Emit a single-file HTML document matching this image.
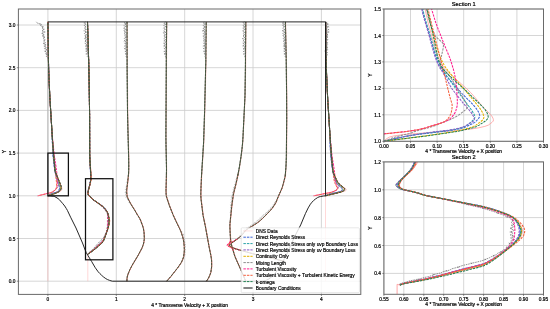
<!DOCTYPE html>
<html><head><meta charset="utf-8"><style>html,body{margin:0;padding:0;background:#fff;width:550px;height:309px;overflow:hidden}</style></head>
<body>
<svg width="550" height="309" viewBox="0 0 550 309" style="display:block;will-change:transform">
<rect width="550" height="309" fill="#fff"/>
<defs>
<clipPath id="cm"><rect x="18.4" y="9.0" width="342.40000000000003" height="285.4"/></clipPath>
<clipPath id="c1"><rect x="383.9" y="9.0" width="159.60000000000002" height="132.3"/></clipPath>
<clipPath id="c2"><rect x="383.9" y="161.9" width="159.60000000000002" height="132.4"/></clipPath>
</defs>
<line x1="47.9" y1="9.0" x2="47.9" y2="294.4" stroke="#cbcbcb" stroke-width="0.8"/>
<line x1="116.3" y1="9.0" x2="116.3" y2="294.4" stroke="#cbcbcb" stroke-width="0.8"/>
<line x1="184.7" y1="9.0" x2="184.7" y2="294.4" stroke="#cbcbcb" stroke-width="0.8"/>
<line x1="253" y1="9.0" x2="253" y2="294.4" stroke="#cbcbcb" stroke-width="0.8"/>
<line x1="321.4" y1="9.0" x2="321.4" y2="294.4" stroke="#cbcbcb" stroke-width="0.8"/>
<line x1="18.4" y1="281.2" x2="360.8" y2="281.2" stroke="#cbcbcb" stroke-width="0.8"/>
<line x1="18.4" y1="238.5" x2="360.8" y2="238.5" stroke="#cbcbcb" stroke-width="0.8"/>
<line x1="18.4" y1="195.8" x2="360.8" y2="195.8" stroke="#cbcbcb" stroke-width="0.8"/>
<line x1="18.4" y1="153.1" x2="360.8" y2="153.1" stroke="#cbcbcb" stroke-width="0.8"/>
<line x1="18.4" y1="110.4" x2="360.8" y2="110.4" stroke="#cbcbcb" stroke-width="0.8"/>
<line x1="18.4" y1="67.7" x2="360.8" y2="67.7" stroke="#cbcbcb" stroke-width="0.8"/>
<line x1="18.4" y1="25" x2="360.8" y2="25" stroke="#cbcbcb" stroke-width="0.8"/>
<g clip-path="url(#cm)">
<path d="M47.9,195.8 L47.9,281.2" fill="none" stroke="#ff9c9c" stroke-width="0.7" stroke-linejoin="round" stroke-opacity="0.55"/>
<path d="M87.8,253.4 L87.8,281.2" fill="none" stroke="#ff9c9c" stroke-width="0.7" stroke-linejoin="round" stroke-opacity="0.55"/>
<path d="M325.5,195.8 L325.5,281.2" fill="none" stroke="#ff9c9c" stroke-width="0.7" stroke-linejoin="round" stroke-opacity="0.55"/>
<path d="M47.9,195.8 L47.9,21.9" fill="none" stroke="#b4b4b4" stroke-width="0.9" stroke-linejoin="round"/>
<path d="M47.9,195.8 L48.6,194.5 L49.2,194.1 L50.5,193.6 L59,191.9 L60.1,191.4 L60.9,191 L61.3,190.6 L61.8,189.7 L62,188.8 L61.6,187.1 L60.5,184.5 L59.1,180.1 L56.2,173.6 L55.3,171 L54.5,166.2 L53.3,154.4 L50,99.9 L48.9,75.5 L48.3,55.5 L47.9,21.9" fill="none" stroke="#ff9c9c" stroke-width="0.7" stroke-linejoin="round" stroke-opacity="0.8"/>
<path d="M47.9,195.8 L51,194.1 L56.4,192.3 L57.5,191.9 L58.6,191 L59.6,189.7 L60.1,188.4 L60.2,187.5 L60,186.2 L59.7,184.9 L56.4,176.2 L55,171.4 L54.4,167.5 L52.9,153.5 L51.9,130.9 L49.9,97.8 L48.8,72.9 L48.3,54.2 L47.9,21.9" fill="none" stroke="#3b63d6" stroke-width="0.95" stroke-linejoin="round" stroke-dasharray="2.4 1.0" stroke-dashoffset="0.3"/>
<path d="M47.9,195.8 L51,194.1 L57.3,191.9 L57.9,191.4 L58.6,190.6 L59.4,188.8 L59.6,188 L59.2,185.8 L56,174.9 L55.1,171 L54.4,166.2 L52.9,153.5 L51.9,130 L49.7,94.7 L48.8,73.3 L48.3,54.6 L47.9,21.9" fill="none" stroke="#29a3a8" stroke-width="0.95" stroke-linejoin="round" stroke-dasharray="2.4 1.0" stroke-dashoffset="0.9"/>
<path d="M47.9,195.8 L50.1,194.5 L52,193.6 L57.1,191.9 L58.2,191 L59.2,189.7 L59.5,188.8 L59.1,186.6 L56.6,178.8 L54.8,171 L54.3,167 L52.8,153.5 L51.9,130.4 L49.9,97.8 L48.8,72.9 L48.3,54.2 L47.9,21.9" fill="none" stroke="#8b5bc6" stroke-width="0.95" stroke-linejoin="round" stroke-dasharray="2.4 1.0" stroke-dashoffset="1.5"/>
<path d="M47.9,195.8 L55.6,193.2 L56.7,192.7 L58.3,191.9 L59.4,191 L59.7,190.6 L60.6,188.8 L60.8,188 L60.5,186.2 L60,184.5 L56.5,174 L55.5,170.5 L54.6,164.9 L53.4,153.1 L52.3,136.5 L50.1,101.2 L49.1,81.2 L48.6,69.9 L48.4,59 L47.9,21.9" fill="none" stroke="#e2b100" stroke-width="0.95" stroke-linejoin="round" stroke-dasharray="2.4 1.0" stroke-dashoffset="2.1"/>
<path d="M47.9,195.8 L49.3,194.5 L51.3,193.2 L52.3,192.3 L54.2,191 L56.4,188.8 L57.7,187.1 L58.6,184.9 L58.4,183.2 L56.6,175.8 L56.1,174 L55.3,172.3 L55.1,171.4 L55.5,164.4 L54.5,161.8 L53.9,157.9 L53.4,153.5 L52.8,144.4 L50,99.9 L48.8,74.7 L48.3,55 L47.9,21.9" fill="none" stroke="#8f8f8f" stroke-width="0.95" stroke-linejoin="round" stroke-dasharray="2.4 1.0" stroke-dashoffset="2.7"/>
<path d="M37.6,195.8 L50.5,192.7 L52.6,191.9 L55.5,189.7 L56.2,188.8 L56.6,188 L57,186.6 L57.3,184.5 L57.3,178.4 L56.8,172.7 L56.4,168.8 L54.3,155.3 L52.3,136.1 L51.7,127.8 L50,100.4 L49.2,84.7 L48.6,68.1 L48.3,52 L47.9,21.9" fill="none" stroke="#ff1f8f" stroke-width="0.95" stroke-linejoin="round" stroke-dasharray="2.4 1.0" stroke-dashoffset="1.7"/>
<path d="M38.3,195.8 L50.5,192.7 L52.6,191.9 L55,190.1 L55.8,189.3 L56.4,187.5 L56.6,185.3 L56.6,183.6 L53.8,155.7 L52.9,144.8 L51.8,129.1 L49.8,96.4 L48.6,67.7 L48.3,52 L47.9,21.9" fill="none" stroke="#f4603e" stroke-width="0.95" stroke-linejoin="round" stroke-dasharray="2.4 1.0" stroke-dashoffset="1.2"/>
<path d="M47.9,195.8 L53.4,194.1 L57,192.7 L57.9,192.3 L59.8,191 L60.9,189.3 L61.3,188 L61.2,186.6 L60.7,184.9 L56.3,174.4 L55.2,171.4 L54.7,167.9 L53.5,153.1 L52.3,137.4 L50.1,101.2 L49.1,81.6 L48.7,70.3 L48.4,59.4 L47.9,21.9" fill="none" stroke="#1f7f50" stroke-width="0.95" stroke-linejoin="round" stroke-dasharray="2.4 1.0" stroke-dashoffset="0.0"/>
<path d="M47.9,195.8 L53.4,194.1 L57,192.7 L57.9,192.3 L59.8,191 L61.1,188.8 L61.3,188.4 L61.3,187.5 L60.8,185.3 L55.8,173.1" fill="none" stroke="#a8584c" stroke-width="0.9" stroke-linejoin="round"/>
<path d="M56.8,175.8 L55.9,173.6 L55.2,171.4 L54.7,167.5 L52.8,144.4 L50,100.4 L49.2,84.7 L48.6,68.1 L48.3,52 L47.9,21.9" fill="none" stroke="#5e5a4c" stroke-width="0.9" stroke-linejoin="round"/>
<path d="M47.9,195.8 L53.4,194.1 L57,192.7 L57.9,192.3 L59.8,191 L60.9,189.3 L61.3,188 L61.2,186.6 L60.7,184.9 L56.3,174.4 L55.2,171.4 L54.7,167.9 L53.5,153.1 L52.3,137.4 L50.1,101.2 L49.1,81.6 L48.7,70.3 L48.4,59.4 L47.9,21.9" fill="none" stroke="#3a5238" stroke-width="0.9" stroke-linejoin="round" stroke-dasharray="2.4 1.0" stroke-dashoffset="0"/>
<path d="M46.9,57.1 L46.6,56.8 L46.4,56.1 L46.9,55.4 L46.7,55 L46.7,54.7 L46,54.3 L46.6,54 L45.6,53.6 L45.9,53.3 L46.7,52.9 L46.9,52.6 L44.9,51.2 L45.7,50.8 L47.1,49.8 L44.9,49.1 L44.6,48.8 L45,48.4 L46.1,48.1 L46,47.7 L46.2,47.4 L46.2,47 L44.7,46.7 L44.2,46.3 L45,45.6 L46.1,44.9 L44.7,44.6 L45.2,44.2 L43.8,43.9 L43.2,43.5 L45.1,42.8 L45.3,42.5 L44.8,41.8 L43.9,41.4 L43.8,40.7 L44.3,40.4 L45.3,40 L45,39.7 L44.4,39.3 L44,39 L43.4,38.7 L43,38.3 L43.3,38 L44.4,37.6 L43.9,37.3 L44.7,36.9 L43.9,36.6 L42.4,36.2 L42.6,35.9 L42.6,35.5 L43.9,35.2 L43.5,34.8 L43.9,34.5 L43.9,34.1 L43.2,33.8 L41.5,33.4 L43.2,32.7 L43.6,32.4 L44.6,32 L43.3,31.7 L43.1,31.3 L41.9,31 L42.6,30.6 L42.6,30.3 L43.3,29.9 L43.3,29.6 L44.3,29.2 L42.4,28.5 L42.2,28.2 L42.1,27.8 L43,27.2 L43,26.5 L41.1,26.1 L40.7,25.8 L40.6,25.4 L41.7,24.7 L39.4,23.7 L37.4,23 L35.9,21.9" fill="none" stroke="#6e6e6e" stroke-width="0.75" stroke-linejoin="round" stroke-dasharray="1.4 0.6" stroke-dashoffset="0"/>
<path d="M46,53.4L47.2,54.6M46,54.6L47.2,53.4" stroke="#808080" stroke-width="0.4"/>
<path d="M44.3,50.6L45.5,51.8M44.3,51.8L45.5,50.6" stroke="#808080" stroke-width="0.4"/>
<path d="M44.4,47.8L45.6,49M44.4,49L45.6,47.8" stroke="#808080" stroke-width="0.4"/>
<path d="M44,45.4L45.2,46.6M44,46.6L45.2,45.4" stroke="#808080" stroke-width="0.4"/>
<path d="M43.6,42.6L44.8,43.8M43.6,43.8L44.8,42.6" stroke="#808080" stroke-width="0.4"/>
<path d="M43.7,39.8L44.9,41M43.7,41L44.9,39.8" stroke="#808080" stroke-width="0.4"/>
<path d="M43.8,37L45,38.2M43.8,38.2L45,37" stroke="#808080" stroke-width="0.4"/>
<path d="M42.9,34.2L44.1,35.4M42.9,35.4L44.1,34.2" stroke="#808080" stroke-width="0.4"/>
<path d="M44,31.4L45.2,32.6M44,32.6L45.2,31.4" stroke="#808080" stroke-width="0.4"/>
<path d="M42.7,29L43.9,30.2M42.7,30.2L43.9,29" stroke="#808080" stroke-width="0.4"/>
<path d="M42.4,26.2L43.6,27.4M42.4,27.4L43.6,26.2" stroke="#808080" stroke-width="0.4"/>
<path d="M39.5,23.4L40.7,24.6M39.5,24.6L40.7,23.4" stroke="#808080" stroke-width="0.4"/>
<path d="M325.7,195.8 L326.1,194.9 L326.5,194.5 L327.3,194.1 L329.2,193.6 L342.1,191.9 L345.1,191 L345.8,190.6 L346.3,189.7 L346.2,189.3 L345.4,188.4 L341.5,185.8 L339.8,184.5 L338.9,183.6 L338,182.3 L334.7,175.3 L333.5,172.3 L332.9,170.1 L332.3,166.2 L331.2,156.1 L330.8,150.9 L328.8,116.5 L327.8,100.4 L327.1,86.9 L326.5,72 L326.2,62.5 L325.7,21.9" fill="none" stroke="#ff9c9c" stroke-width="0.7" stroke-linejoin="round" stroke-opacity="0.8"/>
<path d="M325.7,195.8 L327.5,194.9 L329.8,194.1 L339.7,191.9 L340.8,191.4 L342.2,190.6 L343,189.7 L343,189.3 L342.8,188.4 L342.2,187.5 L338.6,184.5 L337.1,182.7 L335.9,180.5 L334.5,177.1 L333.4,173.6 L332.6,170.5 L330.8,155.3 L330.3,148.3 L329.6,130.4 L327.6,97.8 L326.5,73.3 L326.1,54.6 L325.7,21.9" fill="none" stroke="#3b63d6" stroke-width="0.95" stroke-linejoin="round" stroke-dasharray="2.4 1.0" stroke-dashoffset="0.3"/>
<path d="M325.7,195.8 L327.5,194.9 L329.8,194.1 L333.3,193.2 L339.4,191.9 L341.3,191 L341.7,190.6 L342.3,189.3 L342.1,188.4 L341.8,188 L338.7,185.3 L337.1,183.6 L336,181.9 L335.4,180.1 L333.7,174.4 L332.8,170.5 L332.2,166.6 L330.9,155.3 L330.4,148.3 L329.5,127.8 L327.6,96 L326.5,73.8 L326.1,54.6 L325.7,21.9" fill="none" stroke="#29a3a8" stroke-width="0.95" stroke-linejoin="round" stroke-dasharray="2.4 1.0" stroke-dashoffset="0.9"/>
<path d="M325.7,195.8 L327.5,194.9 L329.8,194.1 L333,193.2 L339.1,191.9 L340.3,191.4 L341.1,191 L341.7,190.6 L342.4,189.7 L342.5,189.3 L342.4,188.8 L341.6,188 L338.3,185.3 L337,184 L335.8,182.3 L334.7,179.7 L334.2,177.9 L332.5,170.1 L330.7,155.3 L330.3,148.3 L329.6,130.4 L327.6,97.8 L326.5,73.3 L326.1,54.6 L325.7,21.9" fill="none" stroke="#8b5bc6" stroke-width="0.95" stroke-linejoin="round" stroke-dasharray="2.4 1.0" stroke-dashoffset="1.5"/>
<path d="M325.7,195.8 L338.2,192.7 L341,191.9 L342.9,191 L343.7,190.1 L344,189.3 L343.8,188.4 L343.4,188 L340.1,185.3 L338.8,184 L337.7,182.7 L336.8,181 L334.7,175.3 L333.6,171.8 L332.9,168.3 L332.2,163.6 L331.3,154 L330.3,140.9 L327.8,100.8 L327.1,87.3 L326.5,72 L326.2,62.5 L325.7,21.9" fill="none" stroke="#e2b100" stroke-width="0.95" stroke-linejoin="round" stroke-dasharray="2.4 1.0" stroke-dashoffset="2.1"/>
<path d="M325.7,195.8 L327.5,194.5 L330.5,193.2 L332,192.3 L334.2,191.4 L335.8,190.6 L337.8,188.8 L338.3,188 L338.4,187.1 L337.9,184.9 L336.5,182.7 L335.8,181 L334,174.4 L333,171.8 L332.9,170.5 L333.3,164.4 L332.3,161.8 L331.6,157.5 L331.2,153.5 L327.8,100.8 L326.7,76.8 L326.1,56.4 L325.7,21.9" fill="none" stroke="#8f8f8f" stroke-width="0.95" stroke-linejoin="round" stroke-dasharray="2.4 1.0" stroke-dashoffset="2.7"/>
<path d="M313.5,195.8 L331.2,192.3 L333.7,191.4 L336.2,190.1 L337.4,189.3 L337.7,188.4 L337.4,187.1 L335.8,183.6 L335.3,181.4 L334.8,174.4 L334.4,170.5 L332.6,159.2 L331.8,153.5 L330.5,140 L329.7,130.4 L327.6,97.8 L326.5,72.5 L326,53.7 L325.7,21.9" fill="none" stroke="#ff1f8f" stroke-width="0.95" stroke-linejoin="round" stroke-dasharray="2.4 1.0" stroke-dashoffset="1.7"/>
<path d="M314.3,195.8 L331.2,192.3 L333.7,191.4 L336.3,190.1 L337.3,189.3 L337.3,188.8 L337.1,187.5 L335.7,184.9 L334.7,182.7 L334.3,181.4 L334,179.7 L331.4,154.4 L330,136.1 L327.7,99.5 L326.5,73.3 L326.1,54.6 L325.7,21.9" fill="none" stroke="#f4603e" stroke-width="0.95" stroke-linejoin="round" stroke-dasharray="2.4 1.0" stroke-dashoffset="1.2"/>
<path d="M325.7,195.8 L329,194.9 L338.7,192.7 L341.5,191.9 L343.5,191 L344.4,190.1 L344.7,189.3 L344.7,188.8 L344.5,188.4 L344.1,188 L339.3,184 L338.1,182.7 L337.2,181.4 L335,176.6 L333.7,173.6 L333,171.4 L332.6,168.8 L331.2,153.5 L330.4,141.3 L327.8,100.8 L327.2,88.6 L326.5,72.9 L326.2,63.3 L325.7,21.9" fill="none" stroke="#1f7f50" stroke-width="0.95" stroke-linejoin="round" stroke-dasharray="2.4 1.0" stroke-dashoffset="0.0"/>
<path d="M325.7,195.8 L340.2,192.3 L342.6,191.4 L343.5,191 L344,190.6 L344.6,189.7 L344.7,188.8 L344.1,188 L339.7,184.5 L338.8,183.6 L337.8,182.3 L336.6,180.1 L334.6,175.8 L333.5,173.1" fill="none" stroke="#a8584c" stroke-width="0.9" stroke-linejoin="round"/>
<path d="M334.6,175.8 L333.7,173.6 L333,171.4 L332.5,167.5 L330.6,144.4 L327.8,100.4 L327,84.7 L326.4,68.1 L326,52 L325.7,21.9" fill="none" stroke="#5e5a4c" stroke-width="0.9" stroke-linejoin="round"/>
<path d="M325.7,195.8 L329,194.9 L338.7,192.7 L341.5,191.9 L343.5,191 L344.4,190.1 L344.7,189.3 L344.7,188.8 L344.5,188.4 L344.1,188 L339.3,184 L338.1,182.7 L337.2,181.4 L335,176.6 L333.7,173.6 L333,171.4 L332.6,168.8 L331.2,153.5 L330.4,141.3 L327.8,100.8 L327.2,88.6 L326.5,72.9 L326.2,63.3 L325.7,21.9" fill="none" stroke="#3a5238" stroke-width="0.9" stroke-linejoin="round" stroke-dasharray="2.4 1.0" stroke-dashoffset="0"/>
<path d="M326.5,57.1 L326.5,56.8 L326.2,56.4 L326.3,56.1 L326.5,55.7 L327,55.4 L327.4,54.7 L326.2,54 L325.2,53.6 L327.7,52.6 L326.5,52.2 L327,51.9 L325.2,51.2 L325.8,50.8 L327.5,50.1 L327.7,49.8 L327.6,49.5 L326.1,49.1 L326,48.4 L327.3,48.1 L328.1,47.4 L326.9,47 L326.4,46.7 L325.6,46.3 L326.4,46 L327.5,44.9 L327.7,44.6 L325.7,43.9 L326,43.5 L327.1,43.2 L326.9,42.8 L327.5,42.5 L327.3,42.1 L326.7,41.8 L326.2,41.1 L326.1,40.7 L327.6,40 L327.9,39.7 L326.9,39.3 L325.7,38.3 L327.7,37.3 L328,36.9 L326.9,36.6 L326.2,36.2 L326.3,35.9 L326.6,35.5 L327.7,35.2 L327.1,34.8 L328.2,34.5 L327.2,34.1 L326.6,33.8 L326.4,33.4 L326.6,33.1 L328.5,32 L326.8,31.3 L325.9,30.6 L327.3,30.3 L327.7,29.9 L328.6,29.6 L326.4,28.5 L326.1,27.8 L327.2,27.5 L328.4,26.8 L327.1,26.5 L326.9,26.1 L325.8,25.8 L325.8,25.4 L327.9,24.4 L327.9,24 L326.8,23.7 L326.3,23.3 L326.5,23 L326.6,22.6 L327.3,22.3 L327.7,21.9" fill="none" stroke="#6e6e6e" stroke-width="0.75" stroke-linejoin="round" stroke-dasharray="1.4 0.6" stroke-dashoffset="0"/>
<path d="M325.6,53.4L326.8,54.6M325.6,54.6L326.8,53.4" stroke="#808080" stroke-width="0.4"/>
<path d="M324.6,50.6L325.8,51.8M324.6,51.8L325.8,50.6" stroke="#808080" stroke-width="0.4"/>
<path d="M325.4,47.8L326.6,49M325.4,49L326.6,47.8" stroke="#808080" stroke-width="0.4"/>
<path d="M325.8,45.4L327,46.6M325.8,46.6L327,45.4" stroke="#808080" stroke-width="0.4"/>
<path d="M326.5,42.6L327.7,43.8M326.5,43.8L327.7,42.6" stroke="#808080" stroke-width="0.4"/>
<path d="M326.3,39.8L327.5,41M326.3,41L327.5,39.8" stroke="#808080" stroke-width="0.4"/>
<path d="M326.5,37L327.7,38.2M326.5,38.2L327.7,37" stroke="#808080" stroke-width="0.4"/>
<path d="M326.5,34.2L327.7,35.4M326.5,35.4L327.7,34.2" stroke="#808080" stroke-width="0.4"/>
<path d="M327.9,31.4L329.1,32.6M327.9,32.6L329.1,31.4" stroke="#808080" stroke-width="0.4"/>
<path d="M328,29L329.2,30.2M328,30.2L329.2,29" stroke="#808080" stroke-width="0.4"/>
<path d="M327.8,26.2L329,27.4M327.8,27.4L329,26.2" stroke="#808080" stroke-width="0.4"/>
<path d="M327.3,23.4L328.5,24.6M327.3,24.6L328.5,23.4" stroke="#808080" stroke-width="0.4"/>
<path d="M88.2,254.2 L88.7,253.6 L89.4,253 L92.1,251.3 L95,249 L101.6,243.1 L102.7,242 L103.3,240.8 L104.8,237.3 L106.8,232.1 L108.1,228 L109,224.5 L109.2,221 L108.9,217.5 L108.1,214 L107.4,212.3 L105.9,210 L103.9,207.6 L102,205.9 L92.9,199.5 L92.2,198.9 L91.3,197.7 L89.2,196 L88.7,195.4 L88.5,194.8 L88.2,193.7 L88.2,192.5 L88.5,190.2 L90.5,183.2 L91.2,179.7 L91.3,178.5 L91,172.7 L90,159.9 L89.7,154.6 L89.6,115.1 L89.2,83.6 L88.7,61.5 L87.5,21.9" fill="none" stroke="#ff9c9c" stroke-width="0.7" stroke-linejoin="round" stroke-opacity="0.8"/>
<path d="M88.2,254 L88.7,253.5 L89.3,252.9 L92.5,250.6 L95.2,248.2 L99.4,244.2 L102.1,241.8 L103,240.7 L105.1,236 L107.5,229.6 L108.2,226.7 L108.5,225 L108.8,223.2 L108.8,220.9 L108.5,216.8 L107.8,213.3 L107.1,211.6 L105.6,209.2 L104.1,207.5 L102.2,205.8 L92.7,199.4 L91.2,197.6 L88.9,195.9 L88.4,195.3 L87.9,194.1 L87.6,193 L87.9,191.2 L90,183.7 L90.6,180.2 L90.7,178.4 L90.5,172.6 L89.7,155.1 L89.6,114.4 L89.2,84.8 L88.7,62.1 L87.5,21.9" fill="none" stroke="#3b63d6" stroke-width="0.95" stroke-linejoin="round" stroke-dasharray="2.4 1.0" stroke-dashoffset="0.3"/>
<path d="M88.2,254 L88.7,253.5 L89.3,252.9 L92.5,250.6 L95.2,248.2 L99.4,244.2 L102.1,241.8 L103,240.7 L105.2,236 L107.5,229.6 L108.3,226.7 L108.7,225 L108.9,223.2 L109,220.9 L108.6,216.8 L107.8,213.3 L107,211.6 L105.4,209.2 L103.9,207.5 L102,205.8 L92.7,199.4 L91.2,197.6 L89,195.9 L88.5,195.3 L88,194.1 L87.8,193 L88.2,190.6 L90.1,183.7 L90.7,180.2 L90.8,178.4 L90.6,172.6 L89.7,155.1 L89.6,114.4 L89.2,84.2 L88.7,62.1 L87.5,21.9" fill="none" stroke="#29a3a8" stroke-width="0.95" stroke-linejoin="round" stroke-dasharray="2.4 1.0" stroke-dashoffset="0.9"/>
<path d="M88.2,254 L89.3,252.8 L92.5,250.5 L94.5,248.8 L99.3,244.1 L102,241.8 L102.9,240.6 L104.1,238.3 L105.4,235.4 L107.4,229.6 L108,227.3 L108.4,224.9 L108.7,220.9 L108.4,216.8 L107.7,213.3 L107,211.6 L105.5,209.2 L104,207.5 L102,205.7 L92.7,199.3 L91.1,197.6 L88.9,195.8 L88.4,195.3 L87.9,194.1 L87.7,192.9 L88.1,190.6 L90,183.6 L90.6,180.1 L90.7,178.4 L90.5,172.6 L89.7,155.1 L89.6,114.4 L89.2,84.7 L88.7,62.1 L87.5,21.9" fill="none" stroke="#8b5bc6" stroke-width="0.95" stroke-linejoin="round" stroke-dasharray="2.4 1.0" stroke-dashoffset="1.5"/>
<path d="M88.2,254.1 L88.7,253.5 L89.3,252.9 L91.9,251.2 L94.8,248.9 L99.1,244.8 L101.8,242.5 L102.8,241.3 L103.4,240.1 L105,236.6 L107.7,229.1 L108.4,226.8 L108.9,224.4 L109.1,220.9 L109,219.2 L108.7,216.9 L108,214 L107.4,212.2 L105.8,209.9 L104.4,208.1 L102.6,206.4 L97,202.3 L92.8,199.4 L91.2,197.7 L89.1,195.9 L88.6,195.3 L88.3,194.7 L88,193.6 L88,192.4 L88.2,191.3 L90.2,183.7 L90.9,179.6 L90.9,178.5 L90.7,172.6 L89.9,160.4 L89.7,154.6 L89.6,114.4 L89.2,84.2 L88.7,62.1 L87.5,21.9" fill="none" stroke="#e2b100" stroke-width="0.95" stroke-linejoin="round" stroke-dasharray="2.4 1.0" stroke-dashoffset="2.1"/>
<path d="M88.2,253.6 L89.1,252.5 L91.9,250.1 L93.1,249 L99.3,242 L102.4,239.1 L103.3,237.9 L105,235 L106.5,231.6 L106.9,229.8 L107.2,228.1 L107.4,226.3 L107.5,217 L107.5,214.7 L107,213 L105.9,211.2 L104.6,209.5 L101.9,206.6 L97,202.5 L93,199.6 L92.3,199 L91.4,197.9 L88.5,195.6 L87.8,194.4 L87.5,193.2 L87.5,192.7 L87.8,191.5 L89.1,187.4 L90.1,183.9 L90.5,181.6 L90.8,178.7 L90.7,172.9 L89.7,154.9 L89.6,114.3 L89.2,84.1 L88.7,61.4 L87.5,21.9" fill="none" stroke="#8f8f8f" stroke-width="0.95" stroke-linejoin="round" stroke-dasharray="2.4 1.0" stroke-dashoffset="2.7"/>
<path d="M88.2,254 L88.7,253.5 L89.3,252.9 L92.5,250.6 L95.2,248.2 L99.4,244.2 L102.1,241.8 L103,240.7 L104.1,238.3 L105.4,235.4 L106.4,232.5 L107,230.2 L107.7,226.1 L108,220.3 L107.9,216.8 L107.6,213.9 L107,212.2 L105.4,209.8 L104,208.1 L102.2,206.3 L96.9,202.3 L92.7,199.4 L91.2,197.6 L89.1,195.9 L88.6,195.3 L88.3,194.7 L88.1,193.5 L88.1,192.4 L88.3,190.6 L90.2,183.7 L90.8,180.2 L90.9,178.4 L90.7,172.6 L89.9,160.4 L89.7,154.6 L89.6,114.4 L89.2,84.2 L88.7,62.1 L87.5,21.9" fill="none" stroke="#ff1f8f" stroke-width="0.95" stroke-linejoin="round" stroke-dasharray="2.4 1.0" stroke-dashoffset="1.7"/>
<path d="M88.2,254.1 L88.7,253.5 L89.3,252.9 L91.9,251.2 L94.7,248.9 L99,244.8 L101.7,242.5 L102.7,241.3 L103.4,240.1 L105,236.6 L108.5,227.3 L109.4,223.8 L109.7,220.9 L109.5,219.2 L109.2,217.4 L108.3,213.9 L107.5,212.2 L105.5,209.3 L104,207.5 L102.1,205.8 L92.8,199.4 L91.2,197.6 L89.1,195.9 L88.7,195.3 L88.4,194.7 L88.2,193.6 L88.1,192.4 L88.4,190.7 L90.4,183.1 L91,179.6 L91.1,178.4 L90.9,172.6 L90,160.4 L89.7,154.6 L89.6,115 L89.2,84.2 L88.7,62.1 L87.5,21.9" fill="none" stroke="#f4603e" stroke-width="0.95" stroke-linejoin="round" stroke-dasharray="2.4 1.0" stroke-dashoffset="1.2"/>
<path d="M88.2,254.3 L88.7,253.7 L89.4,253.1 L92.2,251.3 L95.9,248.4 L101.9,243.2 L102.8,242 L103.5,240.9 L104.9,237.4 L107.7,229.2 L108.3,226.9 L108.8,224.6 L109,221.1 L109,219.3 L108.7,217 L108,214.1 L107.4,212.3 L105.9,210 L103.9,207.7 L102,205.9 L92.9,199.5 L92.3,198.9 L91.4,197.8 L88.7,195.4 L88.2,194.3 L88,193.1 L88.4,190.2 L90.2,183.2 L90.8,179.7 L90.8,178.6 L90.7,172.7 L89.9,159.9 L89.7,154.7 L89.6,114.5 L89.2,84.2 L88.7,62.1 L87.5,21.9" fill="none" stroke="#1f7f50" stroke-width="0.95" stroke-linejoin="round" stroke-dasharray="2.4 1.0" stroke-dashoffset="0.0"/>
<path d="M88.2,254.3 L88.7,253.7 L89.4,253.1 L92.2,251.3 L95.9,248.4 L101.9,243.2 L102.8,242 L103.5,240.9 L104.9,237.4 L107.5,229.8 L108.3,226.9 L108.7,225.1 L109,221.6 L108.8,218.2 L108,214.1 L107.4,212.3 L105.5,209.4 L103.9,207.7 L102,205.9 L92.9,199.5 L92.3,198.9 L91.4,197.8 L89.2,196 L88.7,195.4 L88.4,194.9 L88,193.1 L88.1,191.9 L88.5,189.6 L90.1,183.8 L90.8,179.7 L90.8,178 L90.7,173.3" fill="none" stroke="#a8584c" stroke-width="0.9" stroke-linejoin="round"/>
<path d="M90.8,175.6 L89.7,154.7 L89.6,114.5 L89.2,84.2 L88.7,62.1 L87.5,21.9" fill="none" stroke="#5e5a4c" stroke-width="0.9" stroke-linejoin="round"/>
<path d="M88.2,254.3 L88.7,253.7 L89.4,253.1 L92.2,251.3 L95.9,248.4 L101.9,243.2 L102.8,242 L103.5,240.9 L104.9,237.4 L107.7,229.2 L108.3,226.9 L108.8,224.6 L109,221.1 L109,219.3 L108.7,217 L108,214.1 L107.4,212.3 L105.9,210 L103.9,207.7 L102,205.9 L92.9,199.5 L92.3,198.9 L91.4,197.8 L88.7,195.4 L88.2,194.3 L88,193.1 L88.4,190.2 L90.2,183.2 L90.8,179.7 L90.8,178.6 L90.7,172.7 L89.9,159.9 L89.7,154.7 L89.6,114.5 L89.2,84.2 L88.7,62.1 L87.5,21.9" fill="none" stroke="#3a5238" stroke-width="0.9" stroke-linejoin="round" stroke-dasharray="2.4 1.0" stroke-dashoffset="0"/>
<path d="M87.7,57.2 L87.6,56.8 L87.2,56.3 L88.2,54.9 L86.4,54 L86.8,53.5 L88.1,52.6 L87.7,52.1 L86.5,51.6 L86.1,51.2 L86.5,50.7 L87.7,50.2 L87,49.8 L86.8,49.3 L85.5,48.9 L87.5,47.9 L87,47.5 L87.2,47 L86,46.5 L85.2,46.1 L86.4,45.6 L87,45.1 L86.2,44.2 L85.3,43.7 L85.5,43.3 L86,42.8 L87.3,42.4 L86.8,41.9 L85.1,41.4 L84.8,41 L87.3,39.6 L84.5,38.6 L84.6,38.2 L87.3,37.2 L85,36.3 L84.6,35.9 L85,35.4 L86.7,34.9 L86,34.5 L85.5,34 L84.4,33.5 L84.9,32.6 L86.6,32.1 L83.8,30.7 L84.4,30.3 L85.9,29.8 L86.2,29.4 L84.6,28.4 L84.4,28 L86.1,27 L85.7,26.6 L84.5,26.1 L84.2,25.6 L85.6,24.7 L85.6,24.2 L84.7,23.3 L83.9,22.9 L85.6,21.9" fill="none" stroke="#6e6e6e" stroke-width="0.75" stroke-linejoin="round" stroke-dasharray="1.4 0.6" stroke-dashoffset="0"/>
<path d="M85.8,53.4L87,54.6M85.8,54.6L87,53.4" stroke="#808080" stroke-width="0.4"/>
<path d="M85.5,50.6L86.7,51.8M85.5,51.8L86.7,50.6" stroke="#808080" stroke-width="0.4"/>
<path d="M85.9,47.8L87.1,49M85.9,49L87.1,47.8" stroke="#808080" stroke-width="0.4"/>
<path d="M85.8,45L87,46.2M85.8,46.2L87,45" stroke="#808080" stroke-width="0.4"/>
<path d="M84.9,42.7L86.1,43.9M84.9,43.9L86.1,42.7" stroke="#808080" stroke-width="0.4"/>
<path d="M85,39.9L86.2,41.1M85,41.1L86.2,39.9" stroke="#808080" stroke-width="0.4"/>
<path d="M85.2,37.1L86.4,38.3M85.2,38.3L86.4,37.1" stroke="#808080" stroke-width="0.4"/>
<path d="M86.1,34.3L87.3,35.5M86.1,35.5L87.3,34.3" stroke="#808080" stroke-width="0.4"/>
<path d="M86,31.5L87.2,32.7M86,32.7L87.2,31.5" stroke="#808080" stroke-width="0.4"/>
<path d="M85.6,28.8L86.8,30M85.6,30L86.8,28.8" stroke="#808080" stroke-width="0.4"/>
<path d="M85.1,26L86.3,27.2M85.1,27.2L86.3,26" stroke="#808080" stroke-width="0.4"/>
<path d="M84.6,23.2L85.8,24.4M84.6,24.4L85.8,23.2" stroke="#808080" stroke-width="0.4"/>
<path d="M127.2,281.2 L127.3,278.6 L127.7,276 L128.4,273.9 L130.1,269.8 L132.5,265.1 L138.4,255.2 L142,248.5 L142.7,246.9 L143.4,244.8 L144,242.8 L144.5,239.6 L144.6,237.6 L144.3,232.4 L143.6,228.2 L143,226.1 L140.8,220.4 L139.6,217.8 L137.6,214.7 L134.9,210 L131.6,204.8 L129.6,201.2 L128.1,198.1 L127.5,196.5 L127,192.9 L127,189.8 L127.8,183.5 L128.8,173.6 L129,165.9 L128.9,155.5 L128.1,127.4 L127.8,110.8 L127.4,69.2 L127.3,21.9" fill="none" stroke="#ff9c9c" stroke-width="0.8" stroke-linejoin="round" stroke-opacity="0.8"/>
<path d="M126.9,281.2 L127,278.6 L127.4,276 L128.1,273.9 L129.8,269.8 L132.2,265.1 L138.2,255.2 L141.8,248.5 L142.4,246.9 L143.2,244.8 L143.7,242.8 L144.2,239.6 L144.3,237.6 L144,232.4 L143.3,228.2 L142.7,226.1 L140.1,219.4 L139.3,217.8 L137.6,215.2 L134.6,210 L130.5,203.8 L130.1,203.3 L129.1,202.7 L129,201.7 L129.3,201.2 L128.8,200.7 L127.3,199.6 L128.1,199.1 L127.5,198.6 L127.5,198.1 L126,197.5 L125.9,197 L126.8,196.5 L126.7,196 L125.4,194.9 L126.3,193.4 L126.1,192.9 L125,192.4 L125.1,191.8 L126.5,190.8 L125.5,189.8 L125.4,189.2 L126.7,188.2 L125.9,187.7 L125.9,187.2 L127,185.6 L126.5,185.1 L126.7,184.6 L127.3,184 L127.3,183.5 L127.5,183 L126.4,182.5 L127.6,180.9 L128.2,180.4 L127,179.9 L127.7,179.4 L127.9,178.3 L128.5,173.6 L128.7,169.5 L128.7,156 L127.5,113.4 L127.1,59.3" fill="none" stroke="#8a8a8a" stroke-width="0.6" stroke-linejoin="round" stroke-dasharray="1.4 0.7" stroke-dashoffset="0"/>
<path d="M126.9,281.2 L126.9,279.1 L127.3,276.5 L127.7,275 L128.5,272.9 L129.8,269.8 L131.7,266.1 L137.9,255.7 L142,247.9 L142.8,245.9 L143.5,243.8 L144.2,240.2 L144.3,238.1 L144.1,232.9 L143.5,228.7 L142.7,226.1 L140.4,219.9 L139.3,217.8 L137.6,215.2 L134.6,210 L132,205.9 L130.1,202.7 L128.1,198.6 L127.2,196.5 L126.7,192.9 L126.7,190.3 L128.2,177.8 L128.6,173.1" fill="none" stroke="#a8584c" stroke-width="0.9" stroke-linejoin="round"/>
<path d="M128.4,175.7 L128.7,170.5 L128.7,161.7 L127.5,111.3 L127.1,69.7 L127,21.9" fill="none" stroke="#5e5a4c" stroke-width="0.9" stroke-linejoin="round"/>
<path d="M126.9,281.2 L127,278.6 L127.4,276 L128.1,273.9 L129.8,269.8 L132.2,265.1 L138.2,255.2 L141.8,248.5 L142.4,246.9 L143.2,244.8 L143.7,242.8 L144.2,239.6 L144.3,237.6 L144,232.4 L143.3,228.2 L142.7,226.1 L140.6,220.4 L139.3,217.8 L137.3,214.7 L134.6,210 L131.3,204.8 L129.3,201.2 L127.8,198.1 L127.2,196.5 L126.7,192.9 L126.7,189.8 L127.5,183.5 L128.6,173.6 L128.8,165.9 L128.6,155.5 L127.8,127.4 L127.5,110.8 L127.1,69.2 L127,21.9" fill="none" stroke="#3a5238" stroke-width="0.9" stroke-linejoin="round" stroke-dasharray="2.4 1.0" stroke-dashoffset="0"/>
<path d="M126.5,57.3 L126,56.2 L127,55.2 L126.2,54.7 L125.5,53.6 L126.6,53.1 L127.2,52.6 L125.4,51.5 L125.3,51 L126.3,50.5 L126.3,50 L125.2,49.5 L124.6,48.4 L126.3,47.9 L127,47.4 L124.8,46.3 L125.1,45.8 L126.5,45.3 L126.1,44.3 L125,43.7 L125,43.2 L126.5,42.7 L125.8,41.7 L124.2,41.2 L124.6,40.6 L126.4,39.6 L124.9,39.1 L124.4,38.6 L124.4,38 L126.2,37.5 L126.7,37 L125.1,36.5 L124.7,36 L124.9,35.4 L126.5,34.9 L125.9,34.4 L124.2,33.9 L124.5,33.4 L124.6,32.8 L125.4,32.3 L125.5,31.8 L124.1,31.3 L123.9,30.8 L124.3,30.2 L126.3,29.7 L125.9,29.2 L124,28.7 L123.5,28.2 L124.6,27.6 L125.6,26.6 L124.5,26.1 L123.8,25.6 L124.7,25 L126,24.5 L126.1,24 L124.1,23 L125.2,22.4 L125.6,21.9" fill="none" stroke="#6e6e6e" stroke-width="0.75" stroke-linejoin="round" stroke-dasharray="1.4 0.6" stroke-dashoffset="0"/>
<path d="M125.2,53.5L126.4,54.7M125.2,54.7L126.4,53.5" stroke="#808080" stroke-width="0.4"/>
<path d="M124.8,50.9L126,52.1M124.8,52.1L126,50.9" stroke="#808080" stroke-width="0.4"/>
<path d="M124,47.8L125.2,49M124,49L125.2,47.8" stroke="#808080" stroke-width="0.4"/>
<path d="M124.5,45.2L125.7,46.4M124.5,46.4L125.7,45.2" stroke="#808080" stroke-width="0.4"/>
<path d="M124.4,42.6L125.6,43.8M124.4,43.8L125.6,42.6" stroke="#808080" stroke-width="0.4"/>
<path d="M124,40L125.2,41.2M124,41.2L125.2,40" stroke="#808080" stroke-width="0.4"/>
<path d="M125.6,36.9L126.8,38.1M125.6,38.1L126.8,36.9" stroke="#808080" stroke-width="0.4"/>
<path d="M125.9,34.3L127.1,35.5M125.9,35.5L127.1,34.3" stroke="#808080" stroke-width="0.4"/>
<path d="M124.8,31.7L126,32.9M124.8,32.9L126,31.7" stroke="#808080" stroke-width="0.4"/>
<path d="M125.3,28.6L126.5,29.8M125.3,29.8L126.5,28.6" stroke="#808080" stroke-width="0.4"/>
<path d="M125,26L126.2,27.2M125,27.2L126.2,26" stroke="#808080" stroke-width="0.4"/>
<path d="M125.5,23.4L126.7,24.6M125.5,24.6L126.7,23.4" stroke="#808080" stroke-width="0.4"/>
<path d="M167,281.2 L171.1,276.5 L177.2,268.7 L179.2,266.1 L181.6,262.5 L182.8,259.9 L183.8,256.8 L184.4,253.1 L184.6,250 L184.4,246.4 L184,242.2 L183.3,238.1 L182.5,235.5 L181.2,231.8 L179.9,228.7 L176.1,220.9 L173,214.2 L169.6,205.3 L167,197.5 L166.6,196 L166.4,194.4 L166.3,190.3 L166.7,170 L166.2,144.5 L166.2,134.2 L166.6,58.3 L166.9,21.9" fill="none" stroke="#ff9c9c" stroke-width="0.8" stroke-linejoin="round" stroke-opacity="0.8"/>
<path d="M166.7,281.2 L170.8,276.5 L177,268.7 L178.9,266.1 L181.4,262.5 L182.9,259.4 L184,256.3 L185.1,254.7 L183.9,254.2 L184.2,253.7 L184,253.1 L185.3,252.1 L184.4,251.6 L184.5,250.5 L185.8,250 L185.3,249.5 L184.4,249 L184.5,248.5 L185.1,247.9 L185.4,246.9 L185.2,246.4 L184.6,245.9 L185.2,244.8 L185.3,244.3 L184,243.8 L183.4,243.3 L184.5,242.8 L185.3,241.7 L184.1,241.2 L183.6,240.7 L184,240.2 L184.8,239.6 L183.3,238.6 L183.2,238.1 L183.7,237.6 L184,237 L183,236 L182.9,235.5 L182.4,235 L183.7,234.4 L182.4,233.9 L181.2,232.9 L181.9,232.4 L182,231.8 L180.6,230.8 L180.4,229.8 L176.7,222.5 L173.4,215.7 L169.1,204.8 L166.5,197 L166.2,195.5 L166,190.3 L166.5,169.5 L165.9,139.4 L166.3,59.3" fill="none" stroke="#8a8a8a" stroke-width="0.6" stroke-linejoin="round" stroke-dasharray="1.4 0.7" stroke-dashoffset="0"/>
<path d="M166.7,281.2 L170.8,276.5 L177,268.7 L178.9,266.1 L181.3,262.5 L182.5,259.9 L183.6,256.8 L184.1,253.1 L184.3,250 L184.2,246.4 L183.8,242.2 L183,238.1 L182.2,235.5 L181,231.8 L179.6,228.7 L176.1,221.4 L173,214.7 L169.3,205.3 L166.4,196.5 L166.1,193.9 L166,190.8 L166.5,173.1" fill="none" stroke="#a8584c" stroke-width="0.9" stroke-linejoin="round"/>
<path d="M166.4,175.7 L166.5,167.9 L166,145.1 L165.9,137.3 L166.3,58.8 L166.7,21.9" fill="none" stroke="#5e5a4c" stroke-width="0.9" stroke-linejoin="round"/>
<path d="M166.7,281.2 L170.8,276.5 L177,268.7 L178.9,266.1 L181.3,262.5 L182.5,259.9 L183.6,256.8 L184.1,253.1 L184.3,250 L184.2,246.4 L183.8,242.2 L183,238.1 L182.2,235.5 L181,231.8 L179.6,228.7 L175.8,220.9 L172.8,214.2 L169.3,205.3 L166.7,197.5 L166.3,196 L166.1,194.4 L166,190.3 L166.5,170 L166,144.5 L165.9,134.2 L166.3,58.3 L166.7,21.9" fill="none" stroke="#3a5238" stroke-width="0.9" stroke-linejoin="round" stroke-dasharray="2.4 1.0" stroke-dashoffset="0"/>
<path d="M165.7,57.3 L165.4,56.2 L166.2,55.2 L165.6,54.7 L164.1,53.6 L166,53.1 L166.2,52.6 L165.9,52.1 L164.3,51.5 L164.6,51 L165.8,50.5 L166.6,50 L165.1,49.5 L164.4,48.4 L166.3,47.4 L164.2,46.3 L164.2,45.8 L165.6,45.3 L166,44.8 L163.8,43.7 L164.2,43.2 L165.6,42.7 L166.3,42.2 L164.9,41.7 L164.5,41.2 L164.3,40.6 L165.9,39.6 L164.4,39.1 L164,38.6 L165.2,37.5 L165.5,37 L165.4,36.5 L163.8,36 L164.3,35.4 L165.5,34.9 L165.3,34.4 L164.3,33.9 L163.7,33.4 L163.3,32.8 L165.7,32.3 L163.9,31.3 L163.8,30.8 L165.3,29.2 L163.8,28.7 L163.4,28.2 L163.9,27.6 L165.1,27.1 L165.4,26.6 L164.2,26.1 L163.7,25.6 L164.8,25 L165.5,24.5 L165,24 L164,23.5 L164.6,22.4 L165.6,21.9" fill="none" stroke="#6e6e6e" stroke-width="0.75" stroke-linejoin="round" stroke-dasharray="1.4 0.6" stroke-dashoffset="0"/>
<path d="M164.3,53.5L165.5,54.7M164.3,54.7L165.5,53.5" stroke="#808080" stroke-width="0.4"/>
<path d="M163.7,50.9L164.9,52.1M163.7,52.1L164.9,50.9" stroke="#808080" stroke-width="0.4"/>
<path d="M163.8,47.8L165,49M163.8,49L165,47.8" stroke="#808080" stroke-width="0.4"/>
<path d="M163.6,45.2L164.8,46.4M163.6,46.4L164.8,45.2" stroke="#808080" stroke-width="0.4"/>
<path d="M163.6,42.6L164.8,43.8M163.6,43.8L164.8,42.6" stroke="#808080" stroke-width="0.4"/>
<path d="M163.7,40L164.9,41.2M163.7,41.2L164.9,40" stroke="#808080" stroke-width="0.4"/>
<path d="M164.6,36.9L165.8,38.1M164.6,38.1L165.8,36.9" stroke="#808080" stroke-width="0.4"/>
<path d="M164.9,34.3L166.1,35.5M164.9,35.5L166.1,34.3" stroke="#808080" stroke-width="0.4"/>
<path d="M165.1,31.7L166.3,32.9M165.1,32.9L166.3,31.7" stroke="#808080" stroke-width="0.4"/>
<path d="M164.7,28.6L165.9,29.8M164.7,29.8L165.9,28.6" stroke="#808080" stroke-width="0.4"/>
<path d="M164.8,26L166,27.2M164.8,27.2L166,26" stroke="#808080" stroke-width="0.4"/>
<path d="M164.4,23.4L165.6,24.6M164.4,24.6L165.6,23.4" stroke="#808080" stroke-width="0.4"/>
<path d="M206.7,281.2 L208.5,278.6 L209.3,277 L210.4,274.4 L211,272.4 L211.6,269.2 L211.9,266.7 L211.9,260.9 L211.6,258.3 L211.1,255.2 L209.4,247.4 L205.6,226.1 L203.3,215.2 L201.3,199.1 L201.1,194.4 L201.2,187.2 L201.8,174.7 L203.9,142 L204.9,111.3 L206.1,61.4 L206.5,21.9" fill="none" stroke="#ff9c9c" stroke-width="0.8" stroke-linejoin="round" stroke-opacity="0.8"/>
<path d="M206.4,281.2 L208.2,278.6 L209,277 L210.1,274.4 L210.8,272.4 L211.3,269.2 L211.6,266.7 L211.6,260.9 L211.3,258.3 L210.8,255.2 L209.2,247.4 L205.3,226.1 L203,215.2 L201,199.1 L200.8,194.4 L201,187.7 L201.5,175.2 L203.7,139.9 L204.6,109.7 L205.9,59.3" fill="none" stroke="#8a8a8a" stroke-width="0.6" stroke-linejoin="round" stroke-dasharray="1.4 0.7" stroke-dashoffset="0"/>
<path d="M206.4,281.2 L208.2,278.6 L209,277 L210.1,274.4 L210.8,272.4 L211.6,267.2 L211.7,264.6 L211.6,261.5 L211.4,258.9 L210.8,255.2 L208.9,245.9 L205.3,226.1 L203.1,215.7 L201.1,199.6 L200.8,196 L200.8,192.4 L201.6,173.1" fill="none" stroke="#a8584c" stroke-width="0.9" stroke-linejoin="round"/>
<path d="M201.5,175.7 L203.6,142.5 L204.6,111.3 L205.8,61.4 L206.2,21.9" fill="none" stroke="#5e5a4c" stroke-width="0.9" stroke-linejoin="round"/>
<path d="M206.4,281.2 L208.2,278.6 L209,277 L210.1,274.4 L210.8,272.4 L211.3,269.2 L211.6,266.7 L211.6,260.9 L211.3,258.3 L210.8,255.2 L209.2,247.4 L205.3,226.1 L203,215.2 L201,199.1 L200.8,194.4 L201,187.2 L201.6,174.7 L203.6,142 L204.6,111.3 L205.8,61.4 L206.2,21.9" fill="none" stroke="#3a5238" stroke-width="0.9" stroke-linejoin="round" stroke-dasharray="2.4 1.0" stroke-dashoffset="0"/>
<path d="M205.3,57.3 L205.2,56.7 L204.8,56.2 L205.4,55.7 L205.4,54.7 L204.8,54.1 L204.4,53.6 L205.5,53.1 L205.6,52.6 L204.6,52.1 L203.6,51 L206.2,50 L203.9,48.9 L203.7,48.4 L205.1,47.9 L205.7,47.4 L204.4,46.9 L203.6,45.8 L205.2,45.3 L205.4,44.8 L205.1,44.3 L204,43.7 L203.9,43.2 L205,42.7 L205.6,42.2 L205,41.7 L203.9,41.2 L203.9,40.6 L205.1,40.1 L205.8,39.6 L203.8,39.1 L203.5,38 L205.4,37.5 L205,37 L202.9,36 L203.8,35.4 L205.1,34.9 L205.5,34.4 L203.5,33.9 L203,33.4 L205.1,32.8 L205.2,32.3 L204.9,31.8 L204,31.3 L202.2,30.8 L204.4,30.2 L205,29.7 L204.4,29.2 L204.2,28.7 L203,28.2 L203.6,27.6 L205.2,27.1 L205,26.6 L203.5,26.1 L203.2,25.6 L203.6,25 L204.5,24.5 L205.1,24 L203.4,23 L204.9,21.9" fill="none" stroke="#6e6e6e" stroke-width="0.75" stroke-linejoin="round" stroke-dasharray="1.4 0.6" stroke-dashoffset="0"/>
<path d="M204.2,53.5L205.4,54.7M204.2,54.7L205.4,53.5" stroke="#808080" stroke-width="0.4"/>
<path d="M203.6,50.9L204.8,52.1M203.6,52.1L204.8,50.9" stroke="#808080" stroke-width="0.4"/>
<path d="M203.1,47.8L204.3,49M203.1,49L204.3,47.8" stroke="#808080" stroke-width="0.4"/>
<path d="M203,45.2L204.2,46.4M203,46.4L204.2,45.2" stroke="#808080" stroke-width="0.4"/>
<path d="M203.3,42.6L204.5,43.8M203.3,43.8L204.5,42.6" stroke="#808080" stroke-width="0.4"/>
<path d="M203.3,40L204.5,41.2M203.3,41.2L204.5,40" stroke="#808080" stroke-width="0.4"/>
<path d="M204.8,36.9L206,38.1M204.8,38.1L206,36.9" stroke="#808080" stroke-width="0.4"/>
<path d="M204.5,34.3L205.7,35.5M204.5,35.5L205.7,34.3" stroke="#808080" stroke-width="0.4"/>
<path d="M204.6,31.7L205.8,32.9M204.6,32.9L205.8,31.7" stroke="#808080" stroke-width="0.4"/>
<path d="M203.8,28.6L205,29.8M203.8,29.8L205,28.6" stroke="#808080" stroke-width="0.4"/>
<path d="M204.4,26L205.6,27.2M204.4,27.2L205.6,26" stroke="#808080" stroke-width="0.4"/>
<path d="M204.5,23.4L205.7,24.6M204.5,24.6L205.7,23.4" stroke="#808080" stroke-width="0.4"/>
<path d="M246,281.2 L242.2,272.4 L235.3,256.8 L234.6,254.7 L233.3,250 L232.1,246.4 L231.3,242.8 L230.8,239.1 L230.4,232.9 L230.1,225.6 L230.2,223.5 L231.9,207.4 L233.4,196 L234.2,191.8 L236.7,182 L239.2,170 L241.3,156.5 L242.3,148.2 L242.9,142 L245.2,95.7 L245.7,67.1 L246.1,21.9" fill="none" stroke="#ff9c9c" stroke-width="0.8" stroke-linejoin="round" stroke-opacity="0.8"/>
<path d="M245.7,281.2 L242,272.4 L235,256.8 L234.3,254.7 L233,250 L231.9,246.4 L231,242.8 L230.5,239.1 L229.8,225.6 L229.9,223.5 L230.5,216.3 L230.5,215.7 L230.2,215.2 L231.2,213.7 L230.2,212.6 L230.9,212.1 L231.1,211.1 L230.6,210.5 L230.3,210 L231.5,209.5 L231.4,209 L230.8,207.9 L230.1,207.4 L231.7,206.4 L230.6,205.3 L230.3,204.8 L231.2,204.3 L231.9,203.3 L231,202.7 L230.7,202.2 L231,201.7 L232.4,201.2 L232,200.7 L231.2,200.1 L231.1,199.6 L231.7,199.1 L232.3,198.1 L231.3,197.5 L231,197 L231.9,196.5 L231.8,196 L232.3,195.5 L231.8,194.9 L232.3,194.4 L233.1,193.9 L232.7,193.4 L232.7,192.9 L232.5,192.4 L232.7,191.8 L233.1,191.3 L233.9,190.8 L233.4,190.3 L233.2,189.2 L234,188.7 L234.3,188.2 L233.5,187.2 L234,186.6 L235.1,186.1 L235.4,185.6 L235.2,185.1 L234.8,184.6 L235.5,183.5 L236.2,183 L235.9,182.5 L234.9,182 L235.5,181.4 L236.3,180.9 L236.4,180.4 L235.7,179.4 L236.6,178.8 L237.4,177.8 L236.8,177.3 L236.4,176.8 L237.5,176.2 L238,175.7 L238.2,175.2 L237.7,174.7 L239.1,168.4 L240.5,160.1 L241.4,153.9 L242.4,144.5 L243,136.8 L244.9,98.3 L245.3,80.6 L245.5,59.3" fill="none" stroke="#8a8a8a" stroke-width="0.6" stroke-linejoin="round" stroke-dasharray="1.4 0.7" stroke-dashoffset="0"/>
<path d="M245.7,281.2 L242,272.4 L236.6,260.4 L234.5,255.2 L231.6,245.3 L230.8,241.2 L230.4,237.6 L229.9,227.7 L229.9,224.6 L231.9,204.8 L233.5,193.9 L236.1,183.5 L238.3,173.1" fill="none" stroke="#a8584c" stroke-width="0.9" stroke-linejoin="round"/>
<path d="M237.8,175.7 L239.6,165.9 L241.1,156 L242.4,145.1 L243,136.8 L245,95.2 L245.4,67.1 L245.8,21.9" fill="none" stroke="#5e5a4c" stroke-width="0.9" stroke-linejoin="round"/>
<path d="M233.1,250.5 L232.6,249.5 L231.9,248.5 L229.3,245.9 L228.7,244.8 L228.8,243.8 L229.9,241.7 L230.3,240.7 L230.4,239.1" fill="none" stroke="#ff1f8f" stroke-width="1.0" stroke-linejoin="round" stroke-dasharray="2.4 1.0" stroke-dashoffset="1.6"/>
<path d="M233.1,250.5 L232.7,249.5 L232.1,248.5 L229.9,245.9 L229.4,244.8 L229.4,243.8 L230.3,241.2 L230.5,239.1" fill="none" stroke="#f4603e" stroke-width="1.0" stroke-linejoin="round" stroke-dasharray="2.4 1.0" stroke-dashoffset="1.0"/>
<path d="M245.7,281.2 L242,272.4 L235,256.8 L234.3,254.7 L233,250 L231.9,246.4 L231,242.8 L230.5,239.1 L230.1,232.9 L229.9,225.6 L230,223.5 L231.6,207.4 L233.1,196 L234,191.8 L236.4,182 L238.9,170 L241,156.5 L242.1,148.2 L242.7,142 L245,95.7 L245.4,67.1 L245.8,21.9" fill="none" stroke="#3a5238" stroke-width="0.9" stroke-linejoin="round" stroke-dasharray="2.4 1.0" stroke-dashoffset="0"/>
<path d="M244.9,57.3 L244.8,56.7 L244.8,55.7 L245.3,55.2 L245.5,54.7 L243.8,54.1 L244,53.6 L246.1,52.6 L245.7,52.1 L243.6,51.5 L244,51 L244.8,50.5 L245.3,50 L244.5,49.5 L243.1,48.9 L243.8,48.4 L245,47.9 L244.8,46.9 L243.3,46.3 L243.2,45.8 L243.8,45.3 L245.5,44.8 L243.2,43.7 L243.4,43.2 L245.2,42.2 L244.1,41.7 L243.3,41.2 L243.5,40.6 L244.1,40.1 L244.3,39.6 L244,39.1 L242.4,38.6 L244.8,37.5 L243.9,36.5 L242.8,36 L244.2,34.9 L244.5,34.4 L243.6,33.9 L243.3,33.4 L243.6,32.8 L244.6,32.3 L243.5,31.3 L242.5,30.8 L244.6,29.7 L244.8,29.2 L243.5,28.7 L242.8,28.2 L243.5,27.6 L245,27.1 L243.3,26.1 L243.2,25.6 L243.5,25 L244.9,24.5 L244.6,24 L243.2,23 L243.1,22.4 L244.6,21.9" fill="none" stroke="#6e6e6e" stroke-width="0.75" stroke-linejoin="round" stroke-dasharray="1.4 0.6" stroke-dashoffset="0"/>
<path d="M243.2,53.5L244.4,54.7M243.2,54.7L244.4,53.5" stroke="#808080" stroke-width="0.4"/>
<path d="M243,50.9L244.2,52.1M243,52.1L244.2,50.9" stroke="#808080" stroke-width="0.4"/>
<path d="M243.2,47.8L244.4,49M243.2,49L244.4,47.8" stroke="#808080" stroke-width="0.4"/>
<path d="M242.6,45.2L243.8,46.4M242.6,46.4L243.8,45.2" stroke="#808080" stroke-width="0.4"/>
<path d="M242.8,42.6L244,43.8M242.8,43.8L244,42.6" stroke="#808080" stroke-width="0.4"/>
<path d="M242.9,40L244.1,41.2M242.9,41.2L244.1,40" stroke="#808080" stroke-width="0.4"/>
<path d="M244.2,36.9L245.4,38.1M244.2,38.1L245.4,36.9" stroke="#808080" stroke-width="0.4"/>
<path d="M243.6,34.3L244.8,35.5M243.6,35.5L244.8,34.3" stroke="#808080" stroke-width="0.4"/>
<path d="M244,31.7L245.2,32.9M244,32.9L245.2,31.7" stroke="#808080" stroke-width="0.4"/>
<path d="M244.2,28.6L245.4,29.8M244.2,29.8L245.4,28.6" stroke="#808080" stroke-width="0.4"/>
<path d="M243.5,26L244.7,27.2M243.5,27.2L244.7,26" stroke="#808080" stroke-width="0.4"/>
<path d="M244,23.4L245.2,24.6M244,24.6L245.2,23.4" stroke="#808080" stroke-width="0.4"/>
<path d="M285.5,261.6 L274.3,258.7 L259.1,255.3 L251.9,253.4 L238.3,249.6 L235.3,248.6 L232.1,247.2 L230.4,246.2 L229.9,245.7 L229.7,245.2 L230,244.8 L231,243.8 L237.6,239 L241.2,236.1 L242.6,234.7 L245.5,230.8 L247,229.4 L256.4,223.6 L258.5,222.2 L260.3,220.7 L263.9,217.4 L271.3,209.7 L274.2,205.9 L276.2,202.5 L278.9,195.8 L282.1,188.6 L283.4,184.2 L285.3,176.6 L285.6,175.1 L286.3,164.6 L286.7,154.5 L287,120.9 L286.9,95.9 L286.4,54.6 L285.7,21.9" fill="none" stroke="#ff9c9c" stroke-width="0.8" stroke-linejoin="round" stroke-opacity="0.8"/>
<path d="M285.2,261.6 L274,258.7 L258.8,255.3 L251.6,253.4 L238,249.6 L235,248.6 L231.7,247.2 L230.1,246.2 L229.6,245.7 L229.4,245.2 L229.6,244.8 L230.6,243.8 L235.7,239.9 L236.7,239.5 L237.4,239 L237,238.5 L238.1,238 L238.6,237.5 L240.2,237.1 L240.5,236.6 L239.7,236.1 L242.5,234.2 L241.7,233.2 L243.6,232.3 L243.8,231.8 L243.5,231.3 L243.9,230.8 L243.6,230.3 L246.2,229.4 L246.4,228.9 L245.8,228.4 L250.3,226.5 L250.6,225.5 L254.1,224.1 L253.5,223.6 L254.8,223.1 L254.7,222.7 L256.3,222.2 L256.6,221.7 L257.2,221.2 L257,220.7 L259.7,219.3 L260.1,218.8 L260.2,218.3 L259.9,217.9 L263,216.4 L262.8,215.9 L262.4,215.5 L265.7,214 L265.4,213.5 L265.6,213.1 L266.4,212.6 L266.8,212.1 L268.7,211.1 L268.4,210.7 L268.6,210.2 L269.2,209.7 L271.3,208.7 L270.7,207.8 L271.3,207.3 L273.3,206.3 L273.6,205.9 L273.6,205.4 L272.9,204.9 L274,204.4 L274.4,203.9 L275.3,203.5 L275.1,203 L274.7,202.5 L275.1,202 L275.9,201.5 L276.6,200.6 L276.7,200.1 L276.1,199.6 L277.1,199.1 L281.2,190 L282.5,186.6 L285.2,175.6 L285.9,167 L286.3,158.3 L286.7,114.6 L286.2,59.4" fill="none" stroke="#8a8a8a" stroke-width="0.6" stroke-linejoin="round" stroke-dasharray="1.4 0.7" stroke-dashoffset="0"/>
<path d="M285.2,261.6 L274,258.7 L258.8,255.3 L251.6,253.4 L238.1,249.6 L235,248.6 L231.8,247.2 L230.1,246.2 L229.6,245.7 L229.5,245.2 L229.7,244.8 L230.7,243.8 L237.3,239 L240.9,236.1 L242.3,234.7 L245.2,230.8 L246.8,229.4 L256.2,223.6 L258.2,222.2 L260,220.7 L263.1,217.9 L270.2,210.7 L272.2,208.3 L274.2,205.4 L275.9,202.5 L278.6,195.8 L282,188.1 L282.9,185.2 L285.1,176.6 L285.5,173.2" fill="none" stroke="#a8584c" stroke-width="0.9" stroke-linejoin="round"/>
<path d="M285.2,176.1 L285.9,167.9 L286.3,157.8 L286.7,118 L286.6,91.6 L286.2,58.4 L285.4,21.9" fill="none" stroke="#5e5a4c" stroke-width="0.9" stroke-linejoin="round"/>
<path d="M241.5,250.5 L234.5,248.6 L230.4,247.2 L228,246.2 L227.2,245.7 L226.8,245.2 L227,244.8 L228.3,243.8 L233.3,241.4 L237.2,239" fill="none" stroke="#ff1f8f" stroke-width="1.0" stroke-linejoin="round" stroke-dasharray="2.4 1.0" stroke-dashoffset="1.6"/>
<path d="M241.5,250.5 L234.6,248.6 L230.7,247.2 L228.5,246.2 L227.8,245.7 L227.5,245.2 L227.6,244.8 L228.9,243.8 L233.5,241.4 L237.2,239" fill="none" stroke="#f4603e" stroke-width="1.0" stroke-linejoin="round" stroke-dasharray="2.4 1.0" stroke-dashoffset="1.0"/>
<path d="M285.2,261.6 L274,258.7 L258.8,255.3 L251.6,253.4 L238.1,249.6 L235,248.6 L231.8,247.2 L230.1,246.2 L229.6,245.7 L229.5,245.2 L229.7,244.8 L230.7,243.8 L237.3,239 L240.9,236.1 L242.3,234.7 L245.2,230.8 L246.8,229.4 L256.2,223.6 L258.2,222.2 L260,220.7 L263.6,217.4 L271,209.7 L273.9,205.9 L275.9,202.5 L278.6,195.8 L281.8,188.6 L283.2,184.2 L285.1,176.6 L285.3,175.1 L286.1,164.6 L286.4,154.5 L286.7,120.9 L286.6,95.9 L286.1,54.6 L285.4,21.9" fill="none" stroke="#3a5238" stroke-width="0.9" stroke-linejoin="round" stroke-dasharray="2.4 1.0" stroke-dashoffset="0"/>
<path d="M285.5,57 L285.2,56.5 L285.3,56 L285.8,55.5 L285.8,55.1 L285.5,54.6 L284.4,54.1 L284.4,53.6 L285.7,53.1 L286.2,52.7 L285.7,52.2 L284.2,51.2 L285.6,50.3 L285.5,49.8 L285.1,49.3 L283.6,48.8 L286,47.9 L286.3,47.4 L285.8,46.9 L283.6,46.4 L284.4,45.5 L285.2,45 L283.6,44 L283.8,43.5 L284.4,43.1 L285.5,42.6 L285.6,42.1 L283.1,41.1 L283.6,40.7 L284.9,40.2 L285.5,39.7 L283.2,38.7 L283,38.3 L284.6,37.8 L285.1,37.3 L284.4,36.8 L283.2,36.3 L282.9,35.4 L284.4,34.9 L284.4,34.4 L283.4,33.9 L282.8,33.5 L283.1,33 L285.1,32.5 L284.1,31.5 L282.6,31 L282.1,30.6 L284,30.1 L285.1,29.6 L283.8,29.1 L283,28.6 L282.9,28.2 L283.4,27.2 L284.7,26.7 L283.3,26.2 L282.8,25.8 L282.5,25.3 L284.2,24.8 L284.7,24.3 L283.4,23.8 L282.3,22.9 L283.9,21.9" fill="none" stroke="#6e6e6e" stroke-width="0.75" stroke-linejoin="round" stroke-dasharray="1.4 0.6" stroke-dashoffset="0"/>
<path d="M283.8,53.5L285,54.7M283.8,54.7L285,53.5" stroke="#808080" stroke-width="0.4"/>
<path d="M283.6,50.6L284.8,51.8M283.6,51.8L284.8,50.6" stroke="#808080" stroke-width="0.4"/>
<path d="M284,47.7L285.2,48.9M284,48.9L285.2,47.7" stroke="#808080" stroke-width="0.4"/>
<path d="M283.3,45.3L284.5,46.5M283.3,46.5L284.5,45.3" stroke="#808080" stroke-width="0.4"/>
<path d="M283.8,42.5L285,43.7M283.8,43.7L285,42.5" stroke="#808080" stroke-width="0.4"/>
<path d="M284.3,39.6L285.5,40.8M284.3,40.8L285.5,39.6" stroke="#808080" stroke-width="0.4"/>
<path d="M284,37.2L285.2,38.4M284,38.4L285.2,37.2" stroke="#808080" stroke-width="0.4"/>
<path d="M283.8,34.3L285,35.5M283.8,35.5L285,34.3" stroke="#808080" stroke-width="0.4"/>
<path d="M284,31.4L285.2,32.6M284,32.6L285.2,31.4" stroke="#808080" stroke-width="0.4"/>
<path d="M284.5,29L285.7,30.2M284.5,30.2L285.7,29" stroke="#808080" stroke-width="0.4"/>
<path d="M284.1,26.1L285.3,27.3M284.1,27.3L285.3,26.1" stroke="#808080" stroke-width="0.4"/>
<path d="M282.8,23.2L284,24.4M282.8,24.4L284,23.2" stroke="#808080" stroke-width="0.4"/>
<path d="M325.5,21.9 L325.5,195.8 L323.4,196 L320.7,196.5 L319,196.9 L317.4,197.7 L315.3,199.1 L313.6,200.5 L312,202.2 L310.4,204.2 L308.2,207.9 L305.5,213.4 L300.7,224.9 L294.7,236.5 L290.4,245.9 L287.2,253.4 L284.5,258.6 L279.1,267.8 L276.4,271.7 L274.2,274.3 L272.6,276 L270.4,277.8 L268.3,279.3 L266.6,280.1 L265.6,280.5 L263.4,281 L261.2,281.2 L112.3,281.2 L109.6,280.4 L107.4,279.5 L105.8,278.6 L103.7,277.1 L101.5,275.2 L99.9,273.6 L98.2,271.8 L96.1,268.9 L95,267.3 L91.7,261.6 L88,255.6 L86.3,252.7 L85.2,250.1 L82.5,243 L76,228 L70.6,217.2 L67.4,210.4 L66.3,208.5 L64.7,206 L62.5,203.3 L59.3,199.6 L58.2,198.7 L56,197.3 L54.4,196.5 L53.3,196.2 L50.6,195.9 L47.9,195.8" fill="none" stroke="#1a1a1a" stroke-width="0.95" stroke-linejoin="round"/>
<path d="M47.9,21.9 L325.5,21.9" fill="none" stroke="#1a1a1a" stroke-width="0.95" stroke-linejoin="round"/>
<rect x="47.9" y="153.1" width="20.5" height="42.7" fill="none" stroke="#111" stroke-width="1.25"/>
<rect x="85.5" y="178.7" width="27.4" height="81.1" fill="none" stroke="#111" stroke-width="1.25"/>
</g>
<rect x="18.4" y="9.0" width="342.4" height="285.4" fill="none" stroke="#6a6a6a" stroke-width="1.0"/>
<line x1="47.9" y1="294.4" x2="47.9" y2="296.0" stroke="#444" stroke-width="0.6"/>
<text x="47.9" y="300.7" font-family="Liberation Sans" font-size="4.8" fill="#000" stroke="#000" stroke-width="0.2" text-anchor="middle">0</text>
<line x1="116.3" y1="294.4" x2="116.3" y2="296.0" stroke="#444" stroke-width="0.6"/>
<text x="116.3" y="300.7" font-family="Liberation Sans" font-size="4.8" fill="#000" stroke="#000" stroke-width="0.2" text-anchor="middle">1</text>
<line x1="184.7" y1="294.4" x2="184.7" y2="296.0" stroke="#444" stroke-width="0.6"/>
<text x="184.7" y="300.7" font-family="Liberation Sans" font-size="4.8" fill="#000" stroke="#000" stroke-width="0.2" text-anchor="middle">2</text>
<line x1="253" y1="294.4" x2="253" y2="296.0" stroke="#444" stroke-width="0.6"/>
<text x="253" y="300.7" font-family="Liberation Sans" font-size="4.8" fill="#000" stroke="#000" stroke-width="0.2" text-anchor="middle">3</text>
<line x1="321.4" y1="294.4" x2="321.4" y2="296.0" stroke="#444" stroke-width="0.6"/>
<text x="321.4" y="300.7" font-family="Liberation Sans" font-size="4.8" fill="#000" stroke="#000" stroke-width="0.2" text-anchor="middle">4</text>
<line x1="16.799999999999997" y1="281.2" x2="18.4" y2="281.2" stroke="#444" stroke-width="0.6"/>
<text x="15.3" y="283.2" font-family="Liberation Sans" font-size="4.8" fill="#000" stroke="#000" stroke-width="0.2" text-anchor="end">0.0</text>
<line x1="16.799999999999997" y1="238.5" x2="18.4" y2="238.5" stroke="#444" stroke-width="0.6"/>
<text x="15.3" y="240.5" font-family="Liberation Sans" font-size="4.8" fill="#000" stroke="#000" stroke-width="0.2" text-anchor="end">0.5</text>
<line x1="16.799999999999997" y1="195.8" x2="18.4" y2="195.8" stroke="#444" stroke-width="0.6"/>
<text x="15.3" y="197.8" font-family="Liberation Sans" font-size="4.8" fill="#000" stroke="#000" stroke-width="0.2" text-anchor="end">1.0</text>
<line x1="16.799999999999997" y1="153.1" x2="18.4" y2="153.1" stroke="#444" stroke-width="0.6"/>
<text x="15.3" y="155.1" font-family="Liberation Sans" font-size="4.8" fill="#000" stroke="#000" stroke-width="0.2" text-anchor="end">1.5</text>
<line x1="16.799999999999997" y1="110.4" x2="18.4" y2="110.4" stroke="#444" stroke-width="0.6"/>
<text x="15.3" y="112.4" font-family="Liberation Sans" font-size="4.8" fill="#000" stroke="#000" stroke-width="0.2" text-anchor="end">2.0</text>
<line x1="16.799999999999997" y1="67.7" x2="18.4" y2="67.7" stroke="#444" stroke-width="0.6"/>
<text x="15.3" y="69.7" font-family="Liberation Sans" font-size="4.8" fill="#000" stroke="#000" stroke-width="0.2" text-anchor="end">2.5</text>
<line x1="16.799999999999997" y1="25" x2="18.4" y2="25" stroke="#444" stroke-width="0.6"/>
<text x="15.3" y="27" font-family="Liberation Sans" font-size="4.8" fill="#000" stroke="#000" stroke-width="0.2" text-anchor="end">3.0</text>
<text x="189.6" y="306.9" font-family="Liberation Sans" font-size="4.9" fill="#000" stroke="#000" stroke-width="0.2" text-anchor="middle">4 * Transverse Velocity + X position</text>
<text x="6" y="151.7" font-family="Liberation Sans" font-size="4.9" fill="#000" stroke="#000" stroke-width="0.2" text-anchor="middle" transform="rotate(-90 6 151.7)">Y</text>
<rect x="241.2" y="227.8" width="118.2" height="64.8" rx="1" fill="#fff" fill-opacity="0.82" stroke="#d6d6d6" stroke-width="0.6"/>
<line x1="243.4" y1="230.9" x2="252.6" y2="230.9" stroke="#ff9c9c" stroke-width="0.7" stroke-opacity="0.4"/>
<text x="255.8" y="232.8" font-family="Liberation Sans" font-size="4.85" fill="#000" stroke="#000" stroke-width="0.18">DNS Data</text>
<line x1="243.4" y1="237.2" x2="252.6" y2="237.2" stroke="#3b63d6" stroke-width="1.0" stroke-dasharray="2.5 1.0"/>
<text x="255.8" y="239.2" font-family="Liberation Sans" font-size="4.85" fill="#000" stroke="#000" stroke-width="0.18">Direct Reynolds Stress</text>
<line x1="243.4" y1="243.6" x2="252.6" y2="243.6" stroke="#29a3a8" stroke-width="1.0" stroke-dasharray="2.5 1.0"/>
<text x="255.8" y="245.5" font-family="Liberation Sans" font-size="4.85" fill="#000" stroke="#000" stroke-width="0.18">Direct Reynolds Stress only uvp Boundary Loss</text>
<line x1="243.4" y1="249.9" x2="252.6" y2="249.9" stroke="#8b5bc6" stroke-width="1.0" stroke-dasharray="2.5 1.0"/>
<text x="255.8" y="251.9" font-family="Liberation Sans" font-size="4.85" fill="#000" stroke="#000" stroke-width="0.18">Direct Reynolds Stress only uv Boundary Loss</text>
<line x1="243.4" y1="256.3" x2="252.6" y2="256.3" stroke="#e2b100" stroke-width="1.0" stroke-dasharray="2.5 1.0"/>
<text x="255.8" y="258.2" font-family="Liberation Sans" font-size="4.85" fill="#000" stroke="#000" stroke-width="0.18">Continuity Only</text>
<line x1="243.4" y1="262.6" x2="252.6" y2="262.6" stroke="#8f8f8f" stroke-width="1.0" stroke-dasharray="2.5 1.0"/>
<text x="255.8" y="264.6" font-family="Liberation Sans" font-size="4.85" fill="#000" stroke="#000" stroke-width="0.18">Mixing Length</text>
<line x1="243.4" y1="268.9" x2="252.6" y2="268.9" stroke="#ff1f8f" stroke-width="1.0" stroke-dasharray="2.5 1.0"/>
<text x="255.8" y="270.9" font-family="Liberation Sans" font-size="4.85" fill="#000" stroke="#000" stroke-width="0.18">Turbulent Viscosity</text>
<line x1="243.4" y1="275.3" x2="252.6" y2="275.3" stroke="#f4603e" stroke-width="1.0" stroke-dasharray="2.5 1.0"/>
<text x="255.8" y="277.2" font-family="Liberation Sans" font-size="4.85" fill="#000" stroke="#000" stroke-width="0.18">Turbulent Viscosity + Turbulent Kinetic Energy</text>
<line x1="243.4" y1="281.6" x2="252.6" y2="281.6" stroke="#1f7f50" stroke-width="1.0" stroke-dasharray="2.5 1.0"/>
<text x="255.8" y="283.6" font-family="Liberation Sans" font-size="4.85" fill="#000" stroke="#000" stroke-width="0.18">k-omega</text>
<line x1="243.4" y1="288" x2="252.6" y2="288" stroke="#222" stroke-width="1.1"/>
<text x="255.8" y="289.9" font-family="Liberation Sans" font-size="4.85" fill="#000" stroke="#000" stroke-width="0.18">Boundary Conditions</text>
<line x1="383.9" y1="9.0" x2="383.9" y2="141.3" stroke="#cbcbcb" stroke-width="0.8"/>
<line x1="410.5" y1="9.0" x2="410.5" y2="141.3" stroke="#cbcbcb" stroke-width="0.8"/>
<line x1="437.1" y1="9.0" x2="437.1" y2="141.3" stroke="#cbcbcb" stroke-width="0.8"/>
<line x1="463.7" y1="9.0" x2="463.7" y2="141.3" stroke="#cbcbcb" stroke-width="0.8"/>
<line x1="490.3" y1="9.0" x2="490.3" y2="141.3" stroke="#cbcbcb" stroke-width="0.8"/>
<line x1="516.9" y1="9.0" x2="516.9" y2="141.3" stroke="#cbcbcb" stroke-width="0.8"/>
<line x1="543.5" y1="9.0" x2="543.5" y2="141.3" stroke="#cbcbcb" stroke-width="0.8"/>
<line x1="383.9" y1="141.3" x2="543.5" y2="141.3" stroke="#cbcbcb" stroke-width="0.8"/>
<line x1="383.9" y1="114.8" x2="543.5" y2="114.8" stroke="#cbcbcb" stroke-width="0.8"/>
<line x1="383.9" y1="88.4" x2="543.5" y2="88.4" stroke="#cbcbcb" stroke-width="0.8"/>
<line x1="383.9" y1="61.9" x2="543.5" y2="61.9" stroke="#cbcbcb" stroke-width="0.8"/>
<line x1="383.9" y1="35.5" x2="543.5" y2="35.5" stroke="#cbcbcb" stroke-width="0.8"/>
<line x1="383.9" y1="9" x2="543.5" y2="9" stroke="#cbcbcb" stroke-width="0.8"/>
<g clip-path="url(#c1)">
<path d="M383.9,141.3 L385.1,139.9 L386.8,138.6 L389.2,137.2 L393.8,135.9 L404,134.5 L456.3,130.5 L470.5,129.1 L478.7,127.8 L484.8,126.4 L488.4,125.1 L492,122.4 L493.3,121 L493.4,119.7 L493,118.3 L492.3,117 L491.5,115.6 L490.4,114.3 L482.2,106.2 L474.4,96.7 L470.8,92.7 L465.2,87.3 L452.9,76.5 L448.6,72.4 L444.8,68.4 L441.7,64.3 L440.2,61.6 L438.3,57.6 L436.8,53.5 L435.4,49.5 L433.9,44.1 L428.1,22.5 L425.9,13 L424.2,3.6 L421.8,-11.3 L415.5,-57.2 L407.8,-109.8 L405.3,-126 L401.8,-146.3 L400.3,-155.7 L397.9,-173.3 L395.7,-190.8 L391.3,-231.4 L390.2,-243.5 L389.3,-254.3 L388.1,-274.6 L387.2,-293.5 L384.9,-356.9 L384.3,-378.5 L383.9,-397.4" fill="none" stroke="#ff9c9c" stroke-width="0.8" stroke-linejoin="round"/>
<path d="M383.9,141.3 L395.1,138.6 L408,135.9 L417.2,134.5 L450.2,130.5 L458.3,129.1 L463.2,127.8 L466.8,126.4 L472.4,123.7 L474.8,122.4 L476.3,121 L478.7,118.3 L479.4,117 L479.7,115.6 L479.4,114.3 L478.9,112.9 L478.3,111.6 L476.5,108.9 L475.5,107.5 L473.1,104.8 L469.3,100.8 L462.4,94 L450.3,80.5 L446.9,76.5 L443.7,72.4 L441,68.4 L439.4,65.7 L438.1,63 L437,60.3 L434.7,53.5 L429.4,34.6 L424.4,18.4 L423.3,14.4 L422.4,10.3 L421,0.9 L419.7,-9.9 L416.5,-46.4 L415.1,-59.9 L412.3,-80.1 L408.9,-103.1 L405.3,-126 L401.3,-149 L399.4,-162.5 L397.1,-180 L395,-197.6 L390.5,-239.5 L389.6,-250.3 L388.9,-261.1 L387.8,-280 L387,-297.5 L384.8,-359.6 L383.9,-397.4" fill="none" stroke="#3b63d6" stroke-width="1.05" stroke-linejoin="round" stroke-dasharray="2.4 1.0" stroke-dashoffset="0.3"/>
<path d="M383.9,141.3 L395.1,138.6 L408.1,135.9 L416.5,134.5 L426.4,133.2 L448.4,130.5 L456.7,129.1 L461.5,127.8 L464.9,126.4 L467.2,125.1 L472.2,121 L473.6,119.7 L474.6,118.3 L474.9,117 L474.6,115.6 L474.1,114.3 L471.6,110.2 L468.8,106.2 L460.7,95.4 L447.1,76.5 L442.7,69.7 L439.8,64.3 L438.6,61.6 L437,57.6 L434.2,49.5 L429.9,34.6 L425.4,19.8 L424,14.4 L423.1,10.3 L421.7,0.9 L420.3,-9.9 L416.5,-47.7 L414.7,-62.6 L411.3,-86.9 L407.2,-113.9 L405,-127.4 L400.9,-151.7 L398.1,-171.9 L394.5,-201.6 L390.6,-238.1 L389.7,-248.9 L389,-258.4 L388,-277.3 L387,-296.2 L384.8,-358.3 L383.9,-397.4" fill="none" stroke="#29a3a8" stroke-width="1.05" stroke-linejoin="round" stroke-dasharray="2.4 1.0" stroke-dashoffset="0.9"/>
<path d="M383.9,141.3 L389.2,139.9 L401.3,137.2 L408.2,135.9 L416,134.5 L424.8,133.2 L434.6,131.8 L446.1,130.5 L455.1,129.1 L460.4,127.8 L464.3,126.4 L471.6,122.4 L473.5,121 L474.3,119.7 L474.2,118.3 L473.7,117 L473.1,115.6 L471.4,112.9 L469.3,110.2 L463.4,103.5 L453.9,91.3 L451.9,88.6 L450.3,85.9 L446.1,77.8 L440.2,68.4 L438,64.3 L436.8,61.6 L435.8,58.9 L433.6,52.2 L428.8,34.6 L424,18.4 L423,14.4 L422.1,10.3 L420.7,0.9 L419.6,-8.6 L418.7,-19.4 L416.5,-46.4 L414.9,-61.2 L412.3,-80.1 L409.1,-101.7 L405.3,-126 L401.3,-149 L399.4,-162.5 L397.1,-180 L395,-197.6 L390.5,-239.5 L389.6,-250.3 L388.9,-261.1 L387.8,-280 L387,-297.5 L384.8,-359.6 L383.9,-397.4" fill="none" stroke="#8b5bc6" stroke-width="1.05" stroke-linejoin="round" stroke-dasharray="2.4 1.0" stroke-dashoffset="1.5"/>
<path d="M383.9,141.3 L415.4,137.2 L443.8,133.2 L452.5,131.8 L459.3,130.5 L464.9,129.1 L469.7,127.8 L473.5,126.4 L475.9,125.1 L479.8,122.4 L481.5,121 L482.9,119.7 L483.7,118.3 L483.9,117 L483.2,114.3 L482,111.6 L480.3,108.9 L478.3,106.2 L464.9,90 L454,77.8 L450.5,73.8 L446.3,68.4 L444.5,65.7 L443,63 L441,58.9 L439.3,54.9 L437.9,50.8 L436.1,45.4 L434.2,38.7 L430.4,23.8 L428.4,15.7 L427,9 L422.5,-15.3 L418,-42.3 L413.5,-70.7 L406.1,-120.6 L400.9,-151.7 L399,-165.2 L396.9,-181.4 L393.2,-213.8 L390.9,-235.4 L389.7,-248.9 L388.7,-263.8 L387.7,-282.7 L386.7,-304.3 L385.1,-350.2 L384.3,-375.8 L383.9,-397.4" fill="none" stroke="#e2b100" stroke-width="1.05" stroke-linejoin="round" stroke-dasharray="2.4 1.0" stroke-dashoffset="2.1"/>
<path d="M383.9,141.3 L387,139.9 L394.9,137.2 L399.5,135.9 L410.7,133.2 L413.9,131.8 L418.1,130.5 L428.3,127.8 L432.7,126.4 L436.3,125.1 L449.8,119.7 L452.9,118.3 L455.5,117 L459.9,114.3 L465,110.2 L466.5,108.9 L467.4,107.5 L467.3,106.2 L466.9,104.8 L465.6,102.1 L460,92.7 L451.6,79.2 L448.8,75.1 L447.7,73.8 L441.8,68.4 L440.7,67 L440,65.7 L439.8,64.3 L440.1,61.6 L441.7,54.9 L443.2,48.1 L443.5,45.4 L443.3,44.1 L442.5,42.7 L441.2,41.4 L436.4,37.3 L435.3,36 L432.9,30.6 L430.4,23.8 L428.3,17.1 L426.7,10.3 L421.8,-18 L414.5,-63.9 L406.1,-120.6 L401.8,-146.3 L400.3,-155.7 L397.9,-173.3 L395.6,-192.2 L391,-234.1 L389.9,-246.2 L389.2,-255.7 L388,-275.9 L387.1,-294.8 L384.8,-358.3 L383.9,-397.4" fill="none" stroke="#8f8f8f" stroke-width="1.05" stroke-linejoin="round" stroke-dasharray="2.4 1.0" stroke-dashoffset="2.7"/>
<path d="M304.1,141.3 L363.5,135.9 L403.9,131.8 L413.4,130.5 L420.5,129.1 L425.8,127.8 L443,122.4 L446.1,121 L448.7,119.7 L450.6,118.3 L451.9,117 L454,114.3 L454.9,112.9 L455.6,111.6 L457.1,106.2 L457.3,104.8 L457.3,99.4 L456.7,87.3 L456.2,83.2 L455.3,77.8 L453.5,69.7 L451.5,63 L449.7,57.6 L443,41.4 L438.2,29.2 L435.7,22.5 L433.6,15.7 L431.6,9 L424.9,-16.7 L421.2,-31.5 L418.5,-43.7 L415.7,-57.2 L413.6,-69.3 L411.5,-82.8 L406.3,-119.3 L401.8,-146.3 L400.5,-154.4 L397.2,-178.7 L394.3,-203 L390.8,-236.8 L389.3,-254.3 L387.8,-280 L386.7,-304.3 L384.8,-361 L383.9,-397.4" fill="none" stroke="#ff1f8f" stroke-width="1.05" stroke-linejoin="round" stroke-dasharray="2.4 1.0" stroke-dashoffset="1.7"/>
<path d="M309.4,141.3 L365.5,135.9 L404.1,131.8 L413.4,130.5 L420.5,129.1 L425.8,127.8 L429.9,126.4 L439.3,123.7 L442.8,122.4 L445.5,121 L447,119.7 L449.2,117 L450,115.6 L450.7,114.3 L451.2,112.9 L451.9,108.9 L452.2,106.2 L452.1,104.8 L451.9,103.5 L450.2,98.1 L449.5,95.4 L441.6,63 L435.5,40 L429.9,17.1 L427.5,6.3 L422.9,-16.7 L418.4,-41 L414.3,-65.3 L412,-80.1 L406.5,-117.9 L405,-127.4 L401.1,-150.3 L398.8,-166.5 L396.1,-188.1 L393.6,-209.7 L390.6,-238.1 L389.2,-255.7 L387.7,-281.3 L386.7,-304.3 L384.8,-361 L383.9,-397.4" fill="none" stroke="#f4603e" stroke-width="1.05" stroke-linejoin="round" stroke-dasharray="2.4 1.0" stroke-dashoffset="1.2"/>
<path d="M383.9,141.3 L393.8,139.9 L426.9,135.9 L455.1,131.8 L462,130.5 L467.7,129.1 L472.7,127.8 L476.6,126.4 L479.1,125.1 L483.4,122.4 L485.3,121 L486.8,119.7 L487.9,118.3 L488.2,117 L488,115.6 L487.6,114.3 L487.1,112.9 L485.5,110.2 L483.3,107.5 L479.3,103.5 L472.1,96.7 L465.3,90 L453.2,79.2 L448.9,75.1 L446.3,72.4 L443.9,69.7 L441.1,65.7 L439.7,63 L439.1,61.6 L438.2,58.9 L437.2,54.9 L436,49.5 L433.7,37.3 L428.9,17.1 L427.1,9 L422.8,-14 L418.4,-39.6 L413.5,-70.7 L405.9,-122 L400.9,-151.7 L399,-165.2 L396.9,-181.4 L393.3,-212.4 L391,-234.1 L389.8,-247.6 L388.9,-261.1 L387.7,-281.3 L386.8,-302.9 L385.1,-350.2 L384.3,-375.8 L383.9,-397.4" fill="none" stroke="#1f7f50" stroke-width="1.05" stroke-linejoin="round" stroke-dasharray="2.4 1.0" stroke-dashoffset="0.0"/>
</g>
<rect x="383.9" y="9.0" width="159.6" height="132.3" fill="none" stroke="#6a6a6a" stroke-width="1.0"/>
<line x1="383.9" y1="141.3" x2="383.9" y2="142.9" stroke="#444" stroke-width="0.6"/>
<text x="383.9" y="147.6" font-family="Liberation Sans" font-size="4.8" fill="#000" stroke="#000" stroke-width="0.2" text-anchor="middle">0.00</text>
<line x1="410.5" y1="141.3" x2="410.5" y2="142.9" stroke="#444" stroke-width="0.6"/>
<text x="410.5" y="147.6" font-family="Liberation Sans" font-size="4.8" fill="#000" stroke="#000" stroke-width="0.2" text-anchor="middle">0.05</text>
<line x1="437.1" y1="141.3" x2="437.1" y2="142.9" stroke="#444" stroke-width="0.6"/>
<text x="437.1" y="147.6" font-family="Liberation Sans" font-size="4.8" fill="#000" stroke="#000" stroke-width="0.2" text-anchor="middle">0.10</text>
<line x1="463.7" y1="141.3" x2="463.7" y2="142.9" stroke="#444" stroke-width="0.6"/>
<text x="463.7" y="147.6" font-family="Liberation Sans" font-size="4.8" fill="#000" stroke="#000" stroke-width="0.2" text-anchor="middle">0.15</text>
<line x1="490.3" y1="141.3" x2="490.3" y2="142.9" stroke="#444" stroke-width="0.6"/>
<text x="490.3" y="147.6" font-family="Liberation Sans" font-size="4.8" fill="#000" stroke="#000" stroke-width="0.2" text-anchor="middle">0.20</text>
<line x1="516.9" y1="141.3" x2="516.9" y2="142.9" stroke="#444" stroke-width="0.6"/>
<text x="516.9" y="147.6" font-family="Liberation Sans" font-size="4.8" fill="#000" stroke="#000" stroke-width="0.2" text-anchor="middle">0.25</text>
<line x1="543.5" y1="141.3" x2="543.5" y2="142.9" stroke="#444" stroke-width="0.6"/>
<text x="543.5" y="147.6" font-family="Liberation Sans" font-size="4.8" fill="#000" stroke="#000" stroke-width="0.2" text-anchor="middle">0.30</text>
<line x1="382.29999999999995" y1="141.3" x2="383.9" y2="141.3" stroke="#444" stroke-width="0.6"/>
<text x="380.8" y="143.3" font-family="Liberation Sans" font-size="4.8" fill="#000" stroke="#000" stroke-width="0.2" text-anchor="end">1.0</text>
<line x1="382.29999999999995" y1="114.8" x2="383.9" y2="114.8" stroke="#444" stroke-width="0.6"/>
<text x="380.8" y="116.8" font-family="Liberation Sans" font-size="4.8" fill="#000" stroke="#000" stroke-width="0.2" text-anchor="end">1.1</text>
<line x1="382.29999999999995" y1="88.4" x2="383.9" y2="88.4" stroke="#444" stroke-width="0.6"/>
<text x="380.8" y="90.4" font-family="Liberation Sans" font-size="4.8" fill="#000" stroke="#000" stroke-width="0.2" text-anchor="end">1.2</text>
<line x1="382.29999999999995" y1="61.9" x2="383.9" y2="61.9" stroke="#444" stroke-width="0.6"/>
<text x="380.8" y="63.9" font-family="Liberation Sans" font-size="4.8" fill="#000" stroke="#000" stroke-width="0.2" text-anchor="end">1.3</text>
<line x1="382.29999999999995" y1="35.5" x2="383.9" y2="35.5" stroke="#444" stroke-width="0.6"/>
<text x="380.8" y="37.5" font-family="Liberation Sans" font-size="4.8" fill="#000" stroke="#000" stroke-width="0.2" text-anchor="end">1.4</text>
<line x1="382.29999999999995" y1="9" x2="383.9" y2="9" stroke="#444" stroke-width="0.6"/>
<text x="380.8" y="11" font-family="Liberation Sans" font-size="4.8" fill="#000" stroke="#000" stroke-width="0.2" text-anchor="end">1.5</text>
<text x="463.7" y="6.3" font-family="Liberation Sans" font-size="5.7" fill="#000" stroke="#000" stroke-width="0.2" text-anchor="middle">Section 1</text>
<text x="463.7" y="153.2" font-family="Liberation Sans" font-size="4.9" fill="#000" stroke="#000" stroke-width="0.2" text-anchor="middle">4 * Transverse Velocity + X position</text>
<text x="372.4" y="75.2" font-family="Liberation Sans" font-size="4.9" fill="#000" stroke="#000" stroke-width="0.2" text-anchor="middle" transform="rotate(-90 372.4 75.2)">Y</text>
<line x1="383.9" y1="161.9" x2="383.9" y2="294.3" stroke="#cbcbcb" stroke-width="0.8"/>
<line x1="403.8" y1="161.9" x2="403.8" y2="294.3" stroke="#cbcbcb" stroke-width="0.8"/>
<line x1="423.8" y1="161.9" x2="423.8" y2="294.3" stroke="#cbcbcb" stroke-width="0.8"/>
<line x1="443.7" y1="161.9" x2="443.7" y2="294.3" stroke="#cbcbcb" stroke-width="0.8"/>
<line x1="463.7" y1="161.9" x2="463.7" y2="294.3" stroke="#cbcbcb" stroke-width="0.8"/>
<line x1="483.6" y1="161.9" x2="483.6" y2="294.3" stroke="#cbcbcb" stroke-width="0.8"/>
<line x1="503.6" y1="161.9" x2="503.6" y2="294.3" stroke="#cbcbcb" stroke-width="0.8"/>
<line x1="523.5" y1="161.9" x2="523.5" y2="294.3" stroke="#cbcbcb" stroke-width="0.8"/>
<line x1="543.5" y1="161.9" x2="543.5" y2="294.3" stroke="#cbcbcb" stroke-width="0.8"/>
<line x1="383.9" y1="273.4" x2="543.5" y2="273.4" stroke="#cbcbcb" stroke-width="0.8"/>
<line x1="383.9" y1="245.5" x2="543.5" y2="245.5" stroke="#cbcbcb" stroke-width="0.8"/>
<line x1="383.9" y1="217.6" x2="543.5" y2="217.6" stroke="#cbcbcb" stroke-width="0.8"/>
<line x1="383.9" y1="189.8" x2="543.5" y2="189.8" stroke="#cbcbcb" stroke-width="0.8"/>
<line x1="383.9" y1="161.9" x2="543.5" y2="161.9" stroke="#cbcbcb" stroke-width="0.8"/>
<g clip-path="url(#c2)">
<path d="M399.9,285.1 L402.4,284.1 L406.4,283.2 L422.1,280.3 L439.5,276.5 L447.4,274.6 L465.9,269.9 L477.9,267 L481.3,266.1 L484,265.1 L487.9,263.2 L492.5,260.4 L496.7,257.5 L508,249 L512.6,245.2 L515.8,242.3 L518.7,239.5 L520.8,236.6 L521.7,234.7 L522,233.8 L522.3,231.9 L522.4,230.9 L522.2,229 L521.8,228.1 L520.4,225.2 L519.9,224.3 L518.4,222.4 L515.8,219.5 L513.4,217.6 L511.8,216.7 L507.6,214.8 L502.8,212.9 L497.4,211 L491.2,209.1 L484.1,207.2 L480,206.2 L446.9,199.6 L426.8,195.8 L423.1,194.8 L417.8,192.9 L405.7,190.1 L402.7,189.1 L401.2,188.2 L400.3,187.2 L399.8,186.3 L399.5,185.3 L399.6,184.4 L400.4,182.5 L401.5,180.6 L403.1,178.7 L405,176.8 L411.2,171.1 L413,169.2 L414.4,167.3 L416.9,163.5 L417.3,162.5 L417.4,161.6 L417,156.8 L416.1,152.1 L414.6,146.4 L411.3,135.9 L410,131.2 L408.9,126.4 L408.4,122.6 L408.2,119.8 L408,108.4 L407.9,73.2 L407.7,58 L406.6,31.4 L405.4,6.7 L404.2,-9.4 L402.4,-29.4 L399.1,-62.6 L395.5,-94" fill="none" stroke="#ff9c9c" stroke-width="0.9" stroke-linejoin="round"/>
<path d="M397.1,315.2 L397.1,284.3 L399.9,285.1" fill="none" stroke="#ff9c9c" stroke-width="0.9" stroke-linejoin="round"/>
<path d="M399.9,284.8 L402.3,283.9 L405.9,282.9 L425,279.1 L440.6,275.3 L465.2,268.7 L480.7,264.9 L483.6,263.9 L485.9,263 L487.8,262 L492.6,259.2 L498.5,255.4 L506.3,249.7 L511.9,244.9 L514.8,242.1 L516.5,240.2 L518.3,237.4 L519.2,235.5 L519.5,234.5 L519.9,232.6 L520,230.7 L520,229.8 L519.6,227.9 L518.1,224.1 L515.6,220.3 L513.9,218.4 L512.8,217.4 L511.5,216.5 L509.8,215.5 L505.6,213.6 L500.9,211.7 L492.2,208.9 L485.2,207 L481.1,206 L426.1,195.6 L422.6,194.6 L420,193.7 L416.9,192.7 L403.9,189.9 L400.8,188.9 L398.8,188 L397.6,187 L396.7,186.1 L396.2,185.1 L396.6,184.2 L398,182.3 L399.9,180.4 L406,174.7 L408.8,171.8 L410.4,169.9 L412.1,167.1 L413.5,164.3 L414,163.3 L414.2,162.4 L414.2,161.4 L413.9,156.7 L413.3,151.9 L412.5,147.2 L409.5,132 L408.8,127.2 L408.4,123.4 L408.2,119.6 L408,109.2 L407.9,73.1 L407.6,57 L406.7,33.2 L405.5,8.6 L404.3,-8.5 L402.5,-28.5 L399.1,-62.7 L395.5,-94" fill="none" stroke="#3b63d6" stroke-width="1.05" stroke-linejoin="round" stroke-dasharray="2.4 1.0" stroke-dashoffset="0.3"/>
<path d="M399.9,284.8 L402.3,283.9 L405.9,282.9 L425,279.1 L440.6,275.3 L465.2,268.7 L480.7,264.9 L483.6,263.9 L485.9,263 L487.8,262 L492.6,259.2 L498.5,255.4 L506.4,249.7 L512.2,244.9 L515.2,242.1 L517,240.2 L519,237.4 L520,235.5 L520.3,234.5 L520.7,232.6 L520.8,230.7 L520.8,229.8 L520.3,227.9 L518.6,224.1 L515.9,220.3 L514,218.4 L512.9,217.4 L511.4,216.5 L509.5,215.5 L505.1,213.6 L500.2,211.7 L491.3,208.9 L484.3,207 L480.1,206 L446.2,199.4 L426,195.6 L422.6,194.6 L420,193.7 L416.9,192.7 L404.2,189.9 L401.2,188.9 L399.3,188 L398.2,187 L397.4,186.1 L397,185.1 L397.3,184.2 L397.9,183.2 L399.4,181.3 L407.1,173.7 L410.6,169.9 L412.4,167.1 L413.9,164.3 L414.3,163.3 L414.6,162.4 L414.6,161.4 L414.3,156.7 L413.6,151.9 L412.8,147.2 L409.6,132 L408.8,127.2 L408.4,123.4 L408.2,119.6 L408,109.2 L407.9,73.1 L407.6,57 L406.7,32.3 L405.4,7.6 L404.2,-9.5 L402.5,-28.5 L399.1,-62.7 L395.5,-94" fill="none" stroke="#29a3a8" stroke-width="1.05" stroke-linejoin="round" stroke-dasharray="2.4 1.0" stroke-dashoffset="0.9"/>
<path d="M399.9,284.8 L402.2,283.8 L405.8,282.9 L424.6,279.1 L436.4,276.2 L447.2,273.4 L464.3,268.6 L479.9,264.8 L483,263.9 L485.4,262.9 L487.4,262 L492.3,259.1 L495.4,257.2 L499.7,254.4 L506.2,249.7 L509.6,246.8 L511.7,244.9 L515.3,241.1 L516.6,239.2 L517.7,237.3 L518.5,235.4 L518.8,234.5 L519.1,232.6 L519.2,230.7 L519.2,229.7 L518.8,227.8 L517.5,224 L515.2,220.2 L513.5,218.3 L512.5,217.4 L511.1,216.4 L509.3,215.5 L505.1,213.6 L500.4,211.7 L491.5,208.8 L484.5,206.9 L480.4,206 L425.9,195.5 L422.4,194.6 L419.9,193.6 L416.8,192.7 L403.9,189.8 L400.9,188.9 L399,187.9 L397.9,187 L397,186.1 L396.6,185.1 L397,184.2 L397.6,183.2 L399.2,181.3 L406.1,174.7 L408.8,171.8 L410.4,169.9 L412.2,167.1 L413.6,164.2 L414,163.3 L414.2,162.3 L414.2,161.4 L413.9,156.6 L413.3,151.9 L409.5,131.9 L408.8,127.2 L408.4,123.4 L408.2,119.6 L408,109.2 L407.9,73.1 L407.6,57 L406.7,33.2 L405.5,8.5 L404.3,-8.5 L402.5,-28.5 L399.1,-62.7 L395.5,-94" fill="none" stroke="#8b5bc6" stroke-width="1.05" stroke-linejoin="round" stroke-dasharray="2.4 1.0" stroke-dashoffset="1.5"/>
<path d="M399.9,284.9 L402.3,284 L406.1,283 L421.1,280.2 L437.8,276.4 L449.1,273.5 L463.3,269.7 L478.9,265.9 L482.2,265 L484.7,264 L488.5,262.1 L493.2,259.3 L497.5,256.4 L506.6,249.8 L510.1,246.9 L513.5,244.1 L517.4,240.3 L518.9,238.4 L520.2,236.5 L521,234.6 L521.4,232.7 L521.6,230.8 L521.4,228.9 L521.1,227.9 L519.2,224.1 L517.1,221.3 L515.4,219.4 L513,217.5 L511.4,216.5 L507.2,214.6 L502.4,212.7 L493.9,209.9 L483.7,207.1 L479.4,206.1 L451.1,200.4 L426.3,195.7 L422.8,194.7 L417.3,192.8 L404.9,190 L401.9,189 L400.2,188.1 L399.3,187.1 L398.6,186.2 L398.3,185.2 L398.4,184.3 L399.5,182.4 L401.7,179.5 L409.3,171.9 L411,170 L413,167.2 L415.1,163.4 L415.4,162.4 L415.4,161.5 L415.1,156.7 L414.3,152 L413.1,146.3 L409.8,132 L408.9,127.3 L408.4,122.5 L408,108.3 L407.9,73.2 L407.7,57 L406.7,32.3 L405.4,7.6 L404.2,-9.5 L402.5,-28.5 L399.1,-62.6 L395.5,-94" fill="none" stroke="#e2b100" stroke-width="1.05" stroke-linejoin="round" stroke-dasharray="2.4 1.0" stroke-dashoffset="2.1"/>
<path d="M399.5,284.1 L401.7,283.2 L405.6,282.2 L408.1,281.3 L412,280.4 L418,279.4 L424.4,277.5 L428.7,276.6 L431.7,275.6 L433.4,274.7 L441.1,272.8 L442.7,271.8 L450.4,269.9 L451,269 L458.4,267.1 L460.7,266.1 L463.8,265.2 L468.2,264.2 L471.6,263.3 L479.6,261.4 L483.1,260.4 L489.8,257.6 L491.3,256.7 L496.1,254.8 L496.9,253.8 L498.3,252.9 L501,251.9 L502,251 L503.1,250 L505.5,249.1 L506.9,248.1 L506.1,247.2 L509.2,246.2 L509.9,245.3 L508.8,244.3 L509.6,243.4 L512.3,242.4 L511,241.5 L511,240.5 L514.2,239.6 L511.2,238.7 L510.6,237.7 L514.6,236.8 L512.8,235.8 L510.1,234.9 L512.5,233.9 L513,233 L510.7,232 L513.1,231.1 L514.2,230.1 L511.2,229.2 L510.9,228.2 L513.1,227.3 L513.7,226.3 L511,225.4 L513.6,224.4 L511.3,222.5 L512.5,221.6 L512.7,220.6 L511.2,219.7 L510.5,218.8 L510.4,217.8 L507.3,216.9 L503.4,215 L497.7,213.1 L495.4,212.1 L483.1,208.3 L451,200.7 L442.2,198.8 L427.6,196 L423.7,195.1 L418.3,193.2 L401.6,189.4 L399.1,188.4 L397.4,187.5 L396.4,186.5 L395.6,185.6 L395.6,184.6 L396.2,183.7 L399.1,180.8 L402.6,178 L404.8,176.1 L408.7,172.3 L411.2,169.5 L413,166.6 L414.5,163.8 L414.9,162.8 L415,161.9 L414.9,159 L414.5,155.3" fill="none" stroke="#777" stroke-width="0.8" stroke-linejoin="round" stroke-dasharray="1.6 0.8" stroke-dashoffset="0"/>
<path d="M417.3,278.7L418.7,280.1M417.3,280.1L418.7,278.7" stroke="#6a6a6a" stroke-width="0.5"/>
<path d="M432.7,274L434.1,275.4M432.7,275.4L434.1,274" stroke="#6a6a6a" stroke-width="0.5"/>
<path d="M445.8,270.2L447.2,271.6M445.8,271.6L447.2,270.2" stroke="#6a6a6a" stroke-width="0.5"/>
<path d="M457.7,266.4L459.1,267.8M457.7,267.8L459.1,266.4" stroke="#6a6a6a" stroke-width="0.5"/>
<path d="M470.9,262.6L472.3,264M470.9,264L472.3,262.6" stroke="#6a6a6a" stroke-width="0.5"/>
<path d="M484.5,258.8L485.9,260.2M484.5,260.2L485.9,258.8" stroke="#6a6a6a" stroke-width="0.5"/>
<path d="M492.9,255L494.3,256.4M492.9,256.4L494.3,255" stroke="#6a6a6a" stroke-width="0.5"/>
<path d="M500.3,251.2L501.7,252.6M500.3,252.6L501.7,251.2" stroke="#6a6a6a" stroke-width="0.5"/>
<path d="M506.2,247.4L507.6,248.8M506.2,248.8L507.6,247.4" stroke="#6a6a6a" stroke-width="0.5"/>
<path d="M508.9,242.7L510.3,244.1M508.9,244.1L510.3,242.7" stroke="#6a6a6a" stroke-width="0.5"/>
<path d="M513.5,238.9L514.9,240.3M513.5,240.3L514.9,238.9" stroke="#6a6a6a" stroke-width="0.5"/>
<path d="M512.1,235.1L513.5,236.5M512.1,236.5L513.5,235.1" stroke="#6a6a6a" stroke-width="0.5"/>
<path d="M510,231.3L511.4,232.7M510,232.7L511.4,231.3" stroke="#6a6a6a" stroke-width="0.5"/>
<path d="M510.2,227.5L511.6,228.9M510.2,228.9L511.6,227.5" stroke="#6a6a6a" stroke-width="0.5"/>
<path d="M512.9,223.7L514.3,225.1M512.9,225.1L514.3,223.7" stroke="#6a6a6a" stroke-width="0.5"/>
<path d="M512,219.9L513.4,221.3M512,221.3L513.4,219.9" stroke="#6a6a6a" stroke-width="0.5"/>
<path d="M506.6,216.2L508,217.6M506.6,217.6L508,216.2" stroke="#6a6a6a" stroke-width="0.5"/>
<path d="M497,212.4L498.4,213.8M497,213.8L498.4,212.4" stroke="#6a6a6a" stroke-width="0.5"/>
<path d="M482.4,207.6L483.8,209M482.4,209L483.8,207.6" stroke="#6a6a6a" stroke-width="0.5"/>
<path d="M466.5,203.8L467.9,205.2M466.5,205.2L467.9,203.8" stroke="#6a6a6a" stroke-width="0.5"/>
<path d="M450.3,200L451.7,201.4M450.3,201.4L451.7,200" stroke="#6a6a6a" stroke-width="0.5"/>
<path d="M431.7,196.3L433.1,197.7M431.7,197.7L433.1,196.3" stroke="#6a6a6a" stroke-width="0.5"/>
<path d="M417.6,192.5L419,193.9M417.6,193.9L419,192.5" stroke="#6a6a6a" stroke-width="0.5"/>
<path d="M399.9,284.8 L402.3,283.9 L405.9,282.9 L425,279.1 L440.6,275.3 L465.2,268.7 L480.7,264.9 L483.6,263.9 L485.9,263 L487.7,262 L492.6,259.2 L495.6,257.3 L499.7,254.4 L505.7,249.7 L507.7,247.8 L509.5,245.9 L511,244 L512.2,242.1 L513.2,240.2 L513.6,239.3 L514.5,235.5 L514.9,229.8 L514.8,227.9 L514.4,224.1 L513.6,221.2 L513.2,220.3 L512.5,219.3 L510.7,217.4 L509.1,216.5 L504.8,214.6 L500.2,212.7 L491.6,209.8 L481.4,207 L450.2,200.3 L425.9,195.6 L422.5,194.6 L420.1,193.7 L417,192.7 L404.7,189.9 L402,188.9 L400.4,188 L399.5,187 L399,186.1 L398.6,185.1 L398.8,184.2 L399.3,183.2 L400.4,181.3 L401.9,179.4 L403.6,177.5 L409.4,171.8 L411.1,169.9 L413,167.1 L414.6,164.3 L415.1,163.3 L415.4,162.4 L415.4,161.4 L415.1,156.7 L414.3,151.9 L413.3,147.2 L409.8,132 L408.9,127.2 L408.4,122.5 L408,108.2 L407.9,73.1 L407.6,57 L406.7,32.3 L405.4,7.6 L404.2,-9.5 L402.5,-28.5 L399.1,-62.7 L395.5,-94" fill="none" stroke="#ff1f8f" stroke-width="1.05" stroke-linejoin="round" stroke-dasharray="2.4 1.0" stroke-dashoffset="1.7"/>
<path d="M399.9,284.9 L402.3,283.9 L406,283 L421,280.1 L437.6,276.4 L448.8,273.5 L462.8,269.7 L478.5,265.9 L481.8,265 L484.5,264 L488.3,262.1 L493.1,259.3 L497.5,256.4 L509.6,247.9 L518.3,241.2 L521.3,238.4 L522.9,236.5 L523.6,235.5 L524.4,233.6 L524.7,231.7 L524.8,230.8 L524.4,228.9 L524,227.9 L522.2,225.1 L520.6,223.2 L516.7,219.4 L514.1,217.5 L512.5,216.5 L508.2,214.6 L500.7,211.8 L491.7,208.9 L484.6,207 L480.4,206.1 L441.6,198.5 L426.3,195.6 L422.8,194.7 L417.3,192.8 L405.1,189.9 L402.3,189 L400.7,188 L399.9,187.1 L399.4,186.1 L399.1,185.2 L399.2,184.2 L399.6,183.3 L400.7,181.4 L402.1,179.5 L403.9,177.6 L410.9,170.9 L412.6,169 L413.9,167.2 L416.2,163.4 L416.6,162.4 L416.6,161.5 L416.2,156.7 L415.4,152 L414,146.3 L410,132 L409,127.3 L408.4,122.5 L408,108.3 L407.9,73.1 L407.7,57.9 L406.7,32.3 L405.4,7.6 L404.2,-9.5 L402.5,-28.5 L399.1,-62.6 L395.5,-94" fill="none" stroke="#f4603e" stroke-width="1.05" stroke-linejoin="round" stroke-dasharray="2.4 1.0" stroke-dashoffset="1.2"/>
<path d="M399.9,285.2 L402.5,284.2 L406.6,283.3 L422.8,280.4 L432,278.5 L444.8,275.7 L479.6,267.1 L482.7,266.2 L485,265.2 L488.6,263.3 L492.9,260.5 L497,257.6 L506.6,250 L513.2,244.3 L517,240.5 L518.5,238.6 L519.7,236.7 L520.6,234.8 L521,232.9 L521.2,231 L521,229.1 L520.8,228.2 L519,224.4 L517.8,222.4 L515.4,219.6 L513.2,217.7 L511.7,216.7 L507.6,214.8 L502.9,212.9 L497.5,211 L491.4,209.1 L484.4,207.2 L480.4,206.3 L447.3,199.6 L427.2,195.8 L423.3,194.9 L418,193 L405.6,190.1 L402.3,189.2 L400.5,188.2 L399.4,187.3 L398.7,186.3 L398.3,185.4 L398.4,184.4 L398.8,183.5 L400.7,180.6 L404.1,176.8 L409.8,171.1 L411.4,169.2 L412.6,167.3 L414.6,163.5 L414.9,162.6 L415,161.6 L414.7,156.9 L414,152.1 L413.1,147.4 L409.5,131.2 L408.8,126.5 L408.4,122.7 L408,108.4 L407.9,73.3 L407.7,57.1 L406.7,32.4 L405.4,7.7 L404.2,-9.4 L402.5,-28.4 L399.1,-62.6 L395.5,-94" fill="none" stroke="#1f7f50" stroke-width="1.05" stroke-linejoin="round" stroke-dasharray="2.4 1.0" stroke-dashoffset="0.0"/>
</g>
<rect x="383.9" y="161.9" width="159.6" height="132.4" fill="none" stroke="#6a6a6a" stroke-width="1.0"/>
<line x1="383.9" y1="294.3" x2="383.9" y2="295.90000000000003" stroke="#444" stroke-width="0.6"/>
<text x="383.9" y="300.6" font-family="Liberation Sans" font-size="4.8" fill="#000" stroke="#000" stroke-width="0.2" text-anchor="middle">0.55</text>
<line x1="403.8" y1="294.3" x2="403.8" y2="295.90000000000003" stroke="#444" stroke-width="0.6"/>
<text x="403.8" y="300.6" font-family="Liberation Sans" font-size="4.8" fill="#000" stroke="#000" stroke-width="0.2" text-anchor="middle">0.60</text>
<line x1="423.8" y1="294.3" x2="423.8" y2="295.90000000000003" stroke="#444" stroke-width="0.6"/>
<text x="423.8" y="300.6" font-family="Liberation Sans" font-size="4.8" fill="#000" stroke="#000" stroke-width="0.2" text-anchor="middle">0.65</text>
<line x1="443.7" y1="294.3" x2="443.7" y2="295.90000000000003" stroke="#444" stroke-width="0.6"/>
<text x="443.7" y="300.6" font-family="Liberation Sans" font-size="4.8" fill="#000" stroke="#000" stroke-width="0.2" text-anchor="middle">0.70</text>
<line x1="463.7" y1="294.3" x2="463.7" y2="295.90000000000003" stroke="#444" stroke-width="0.6"/>
<text x="463.7" y="300.6" font-family="Liberation Sans" font-size="4.8" fill="#000" stroke="#000" stroke-width="0.2" text-anchor="middle">0.75</text>
<line x1="483.6" y1="294.3" x2="483.6" y2="295.90000000000003" stroke="#444" stroke-width="0.6"/>
<text x="483.6" y="300.6" font-family="Liberation Sans" font-size="4.8" fill="#000" stroke="#000" stroke-width="0.2" text-anchor="middle">0.80</text>
<line x1="503.6" y1="294.3" x2="503.6" y2="295.90000000000003" stroke="#444" stroke-width="0.6"/>
<text x="503.6" y="300.6" font-family="Liberation Sans" font-size="4.8" fill="#000" stroke="#000" stroke-width="0.2" text-anchor="middle">0.85</text>
<line x1="523.5" y1="294.3" x2="523.5" y2="295.90000000000003" stroke="#444" stroke-width="0.6"/>
<text x="523.5" y="300.6" font-family="Liberation Sans" font-size="4.8" fill="#000" stroke="#000" stroke-width="0.2" text-anchor="middle">0.90</text>
<line x1="543.5" y1="294.3" x2="543.5" y2="295.90000000000003" stroke="#444" stroke-width="0.6"/>
<text x="543.5" y="300.6" font-family="Liberation Sans" font-size="4.8" fill="#000" stroke="#000" stroke-width="0.2" text-anchor="middle">0.95</text>
<line x1="382.29999999999995" y1="273.4" x2="383.9" y2="273.4" stroke="#444" stroke-width="0.6"/>
<text x="380.8" y="275.4" font-family="Liberation Sans" font-size="4.8" fill="#000" stroke="#000" stroke-width="0.2" text-anchor="end">0.4</text>
<line x1="382.29999999999995" y1="245.5" x2="383.9" y2="245.5" stroke="#444" stroke-width="0.6"/>
<text x="380.8" y="247.5" font-family="Liberation Sans" font-size="4.8" fill="#000" stroke="#000" stroke-width="0.2" text-anchor="end">0.6</text>
<line x1="382.29999999999995" y1="217.6" x2="383.9" y2="217.6" stroke="#444" stroke-width="0.6"/>
<text x="380.8" y="219.6" font-family="Liberation Sans" font-size="4.8" fill="#000" stroke="#000" stroke-width="0.2" text-anchor="end">0.8</text>
<line x1="382.29999999999995" y1="189.8" x2="383.9" y2="189.8" stroke="#444" stroke-width="0.6"/>
<text x="380.8" y="191.8" font-family="Liberation Sans" font-size="4.8" fill="#000" stroke="#000" stroke-width="0.2" text-anchor="end">1.0</text>
<line x1="382.29999999999995" y1="161.9" x2="383.9" y2="161.9" stroke="#444" stroke-width="0.6"/>
<text x="380.8" y="163.9" font-family="Liberation Sans" font-size="4.8" fill="#000" stroke="#000" stroke-width="0.2" text-anchor="end">1.2</text>
<text x="463.7" y="159.2" font-family="Liberation Sans" font-size="5.7" fill="#000" stroke="#000" stroke-width="0.2" text-anchor="middle">Section 2</text>
<text x="463.7" y="306.2" font-family="Liberation Sans" font-size="4.9" fill="#000" stroke="#000" stroke-width="0.2" text-anchor="middle">4 * Transverse Velocity + X position</text>
<text x="372.4" y="228.1" font-family="Liberation Sans" font-size="4.9" fill="#000" stroke="#000" stroke-width="0.2" text-anchor="middle" transform="rotate(-90 372.4 228.1)">Y</text>
</svg>
</body></html>
